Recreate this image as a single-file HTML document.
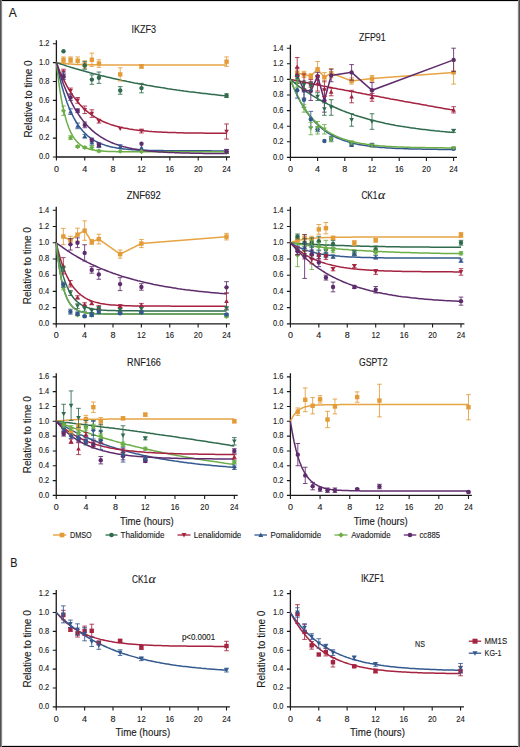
<!DOCTYPE html>
<html><head><meta charset="utf-8"><style>html,body{margin:0;padding:0;background:#fff;}svg{display:block;}</style></head>
<body>
<svg width="520" height="747" viewBox="0 0 520 747" font-family='"Liberation Sans", sans-serif'>
<style>text{stroke:#1a1a1a;stroke-width:0.12px;paint-order:stroke;}</style>
<rect width="520" height="747" fill="#fff"/>
<path d="M56.40,40.22V157.00H229.96" fill="none" stroke="#1a1a1a" stroke-width="1.3"/>
<path d="M52.90,157.00H56.40M52.90,138.12H56.40M52.90,119.24H56.40M52.90,100.36H56.40M52.90,81.48H56.40M52.90,62.60H56.40M52.90,43.72H56.40M56.40,157.00V160.60M84.76,157.00V160.60M113.12,157.00V160.60M141.48,157.00V160.60M169.84,157.00V160.60M198.20,157.00V160.60M226.56,157.00V160.60" stroke="#1a1a1a" stroke-width="1.1" fill="none"/>
<text x="49.40" y="159.30" font-size="8.6" text-anchor="end" textLength="10.4" lengthAdjust="spacingAndGlyphs" fill="#1a1a1a">0.0</text>
<text x="49.40" y="140.42" font-size="8.6" text-anchor="end" textLength="10.4" lengthAdjust="spacingAndGlyphs" fill="#1a1a1a">0.2</text>
<text x="49.40" y="121.54" font-size="8.6" text-anchor="end" textLength="10.4" lengthAdjust="spacingAndGlyphs" fill="#1a1a1a">0.4</text>
<text x="49.40" y="102.66" font-size="8.6" text-anchor="end" textLength="10.4" lengthAdjust="spacingAndGlyphs" fill="#1a1a1a">0.6</text>
<text x="49.40" y="83.78" font-size="8.6" text-anchor="end" textLength="10.4" lengthAdjust="spacingAndGlyphs" fill="#1a1a1a">0.8</text>
<text x="49.40" y="64.90" font-size="8.6" text-anchor="end" textLength="10.4" lengthAdjust="spacingAndGlyphs" fill="#1a1a1a">1.0</text>
<text x="49.40" y="46.02" font-size="8.6" text-anchor="end" textLength="10.4" lengthAdjust="spacingAndGlyphs" fill="#1a1a1a">1.2</text>
<text x="56.40" y="171.60" font-size="8.6" text-anchor="middle" textLength="5.0" lengthAdjust="spacingAndGlyphs" fill="#1a1a1a">0</text>
<text x="84.76" y="171.60" font-size="8.6" text-anchor="middle" textLength="5.0" lengthAdjust="spacingAndGlyphs" fill="#1a1a1a">4</text>
<text x="113.12" y="171.60" font-size="8.6" text-anchor="middle" textLength="5.0" lengthAdjust="spacingAndGlyphs" fill="#1a1a1a">8</text>
<text x="141.48" y="171.60" font-size="8.6" text-anchor="middle" textLength="8.6" lengthAdjust="spacingAndGlyphs" fill="#1a1a1a">12</text>
<text x="169.84" y="171.60" font-size="8.6" text-anchor="middle" textLength="8.6" lengthAdjust="spacingAndGlyphs" fill="#1a1a1a">16</text>
<text x="198.20" y="171.60" font-size="8.6" text-anchor="middle" textLength="8.6" lengthAdjust="spacingAndGlyphs" fill="#1a1a1a">20</text>
<text x="226.56" y="171.60" font-size="8.6" text-anchor="middle" textLength="8.6" lengthAdjust="spacingAndGlyphs" fill="#1a1a1a">24</text>
<text x="131.50" y="32.70" font-size="10.2" textLength="24.5" lengthAdjust="spacingAndGlyphs" fill="#1a1a1a">IKZF3</text>
<text transform="translate(31.70,99.00) rotate(-90)" font-size="10" text-anchor="middle" textLength="77.2" lengthAdjust="spacingAndGlyphs" fill="#1a1a1a">Relative to time 0</text>
<polyline points="56.4,62.6 58.2,62.9 59.9,63.1 61.7,63.3 63.5,63.5 65.3,63.7 67.0,63.8 68.8,64.0 70.6,64.1 72.4,64.2 74.1,64.3 75.9,64.4 77.7,64.4 79.4,64.5 81.2,64.5 83.0,64.6 84.8,64.6 86.5,64.7 88.3,64.7 90.1,64.7 91.8,64.8 93.6,64.8 95.4,64.8 97.2,64.8 98.9,64.8 100.7,64.9 102.5,64.9 104.3,64.9 106.0,64.9 107.8,64.9 109.6,64.9 111.3,64.9 113.1,64.9 114.9,64.9 116.7,64.9 118.4,64.9 120.2,64.9 122.0,64.9 123.8,64.9 125.5,64.9 127.3,64.9 129.1,64.9 130.8,64.9 132.6,64.9 134.4,65.0 136.2,65.0 137.9,65.0 139.7,65.0 141.5,65.0 143.3,65.0 145.0,65.0 146.8,65.0 148.6,65.0 150.3,65.0 152.1,65.0 153.9,65.0 155.7,65.0 157.4,65.0 159.2,65.0 161.0,65.0 162.8,65.0 164.5,65.0 166.3,65.0 168.1,65.0 169.8,65.0 171.6,65.0 173.4,65.0 175.2,65.0 176.9,65.0 178.7,65.0 180.5,65.0 182.2,65.0 184.0,65.0 185.8,65.0 187.6,65.0 189.3,65.0 191.1,65.0 192.9,65.0 194.7,65.0 196.4,65.0 198.2,65.0 200.0,65.0 201.7,65.0 203.5,65.0 205.3,65.0 207.1,65.0 208.8,65.0 210.6,65.0 212.4,65.0 214.2,65.0 215.9,65.0 217.7,65.0 219.5,65.0 221.2,65.0 223.0,65.0 224.8,65.0 226.6,65.0" fill="none" stroke="#E6A444" stroke-width="1.5"/>
<polyline points="56.4,62.6 58.2,63.2 59.9,63.8 61.7,64.4 63.5,64.9 65.3,65.5 67.0,66.1 68.8,66.6 70.6,67.2 72.4,67.7 74.1,68.3 75.9,68.8 77.7,69.3 79.4,69.8 81.2,70.3 83.0,70.8 84.8,71.3 86.5,71.8 88.3,72.3 90.1,72.8 91.8,73.2 93.6,73.7 95.4,74.1 97.2,74.6 98.9,75.0 100.7,75.5 102.5,75.9 104.3,76.3 106.0,76.8 107.8,77.2 109.6,77.6 111.3,78.0 113.1,78.4 114.9,78.8 116.7,79.2 118.4,79.6 120.2,80.0 122.0,80.4 123.8,80.7 125.5,81.1 127.3,81.5 129.1,81.8 130.8,82.2 132.6,82.5 134.4,82.9 136.2,83.2 137.9,83.5 139.7,83.9 141.5,84.2 143.3,84.5 145.0,84.8 146.8,85.2 148.6,85.5 150.3,85.8 152.1,86.1 153.9,86.4 155.7,86.7 157.4,87.0 159.2,87.3 161.0,87.6 162.8,87.8 164.5,88.1 166.3,88.4 168.1,88.7 169.8,88.9 171.6,89.2 173.4,89.5 175.2,89.7 176.9,90.0 178.7,90.2 180.5,90.5 182.2,90.7 184.0,91.0 185.8,91.2 187.6,91.4 189.3,91.7 191.1,91.9 192.9,92.1 194.7,92.3 196.4,92.6 198.2,92.8 200.0,93.0 201.7,93.2 203.5,93.4 205.3,93.6 207.1,93.8 208.8,94.0 210.6,94.2 212.4,94.4 214.2,94.6 215.9,94.8 217.7,95.0 219.5,95.2 221.2,95.4 223.0,95.6 224.8,95.7 226.6,95.9" fill="none" stroke="#2F6B4C" stroke-width="1.5"/>
<polyline points="56.4,62.6 58.2,67.2 59.9,71.5 61.7,75.6 63.5,79.4 65.3,82.9 67.0,86.2 68.8,89.3 70.6,92.1 72.4,94.8 74.1,97.4 75.9,99.7 77.7,101.9 79.4,104.0 81.2,105.9 83.0,107.7 84.8,109.4 86.5,110.9 88.3,112.4 90.1,113.8 91.8,115.0 93.6,116.2 95.4,117.4 97.2,118.4 98.9,119.4 100.7,120.3 102.5,121.2 104.3,122.0 106.0,122.7 107.8,123.4 109.6,124.1 111.3,124.7 113.1,125.2 114.9,125.8 116.7,126.3 118.4,126.7 120.2,127.2 122.0,127.6 123.8,128.0 125.5,128.3 127.3,128.6 129.1,129.0 130.8,129.2 132.6,129.5 134.4,129.8 136.2,130.0 137.9,130.2 139.7,130.4 141.5,130.6 143.3,130.8 145.0,131.0 146.8,131.1 148.6,131.3 150.3,131.4 152.1,131.6 153.9,131.7 155.7,131.8 157.4,131.9 159.2,132.0 161.0,132.1 162.8,132.2 164.5,132.2 166.3,132.3 168.1,132.4 169.8,132.5 171.6,132.5 173.4,132.6 175.2,132.6 176.9,132.7 178.7,132.7 180.5,132.8 182.2,132.8 184.0,132.9 185.8,132.9 187.6,132.9 189.3,133.0 191.1,133.0 192.9,133.0 194.7,133.0 196.4,133.1 198.2,133.1 200.0,133.1 201.7,133.1 203.5,133.1 205.3,133.2 207.1,133.2 208.8,133.2 210.6,133.2 212.4,133.2 214.2,133.2 215.9,133.2 217.7,133.2 219.5,133.3 221.2,133.3 223.0,133.3 224.8,133.3 226.6,133.3" fill="none" stroke="#A52240" stroke-width="1.5"/>
<polyline points="56.4,62.6 58.2,71.0 59.9,78.6 61.7,85.5 63.5,91.7 65.3,97.3 67.0,102.4 68.8,107.0 70.6,111.2 72.4,115.0 74.1,118.4 75.9,121.5 77.7,124.3 79.4,126.8 81.2,129.1 83.0,131.2 84.8,133.0 86.5,134.7 88.3,136.3 90.1,137.7 91.8,138.9 93.6,140.1 95.4,141.1 97.2,142.0 98.9,142.9 100.7,143.6 102.5,144.3 104.3,144.9 106.0,145.5 107.8,146.0 109.6,146.5 111.3,146.9 113.1,147.3 114.9,147.6 116.7,147.9 118.4,148.2 120.2,148.5 122.0,148.7 123.8,148.9 125.5,149.1 127.3,149.2 129.1,149.4 130.8,149.5 132.6,149.7 134.4,149.8 136.2,149.9 137.9,150.0 139.7,150.1 141.5,150.1 143.3,150.2 145.0,150.3 146.8,150.3 148.6,150.4 150.3,150.4 152.1,150.5 153.9,150.5 155.7,150.5 157.4,150.6 159.2,150.6 161.0,150.6 162.8,150.6 164.5,150.7 166.3,150.7 168.1,150.7 169.8,150.7 171.6,150.7 173.4,150.7 175.2,150.8 176.9,150.8 178.7,150.8 180.5,150.8 182.2,150.8 184.0,150.8 185.8,150.8 187.6,150.8 189.3,150.8 191.1,150.8 192.9,150.8 194.7,150.8 196.4,150.8 198.2,150.8 200.0,150.8 201.7,150.8 203.5,150.8 205.3,150.8 207.1,150.8 208.8,150.8 210.6,150.8 212.4,150.9 214.2,150.9 215.9,150.9 217.7,150.9 219.5,150.9 221.2,150.9 223.0,150.9 224.8,150.9 226.6,150.9" fill="none" stroke="#34598F" stroke-width="1.5"/>
<polyline points="56.4,62.6 58.2,77.9 59.9,90.5 61.7,101.0 63.5,109.7 65.3,116.9 67.0,122.8 68.8,127.8 70.6,131.9 72.4,135.3 74.1,138.1 75.9,140.5 77.7,142.4 79.4,144.0 81.2,145.3 83.0,146.5 84.8,147.4 86.5,148.1 88.3,148.8 90.1,149.3 91.8,149.7 93.6,150.1 95.4,150.4 97.2,150.6 98.9,150.8 100.7,151.0 102.5,151.1 104.3,151.2 106.0,151.3 107.8,151.4 109.6,151.5 111.3,151.5 113.1,151.6 114.9,151.6 116.7,151.7 118.4,151.7 120.2,151.7 122.0,151.7 123.8,151.7 125.5,151.7 127.3,151.8 129.1,151.8 130.8,151.8 132.6,151.8 134.4,151.8 136.2,151.8 137.9,151.8 139.7,151.8 141.5,151.8 143.3,151.8 145.0,151.8 146.8,151.8 148.6,151.8 150.3,151.8 152.1,151.8 153.9,151.8 155.7,151.8 157.4,151.8 159.2,151.8 161.0,151.8 162.8,151.8 164.5,151.8 166.3,151.8 168.1,151.8 169.8,151.8 171.6,151.8 173.4,151.8 175.2,151.8 176.9,151.8 178.7,151.8 180.5,151.8 182.2,151.8 184.0,151.8 185.8,151.8 187.6,151.8 189.3,151.8 191.1,151.8 192.9,151.8 194.7,151.8 196.4,151.8 198.2,151.8 200.0,151.8 201.7,151.8 203.5,151.8 205.3,151.8 207.1,151.8 208.8,151.8 210.6,151.8 212.4,151.8 214.2,151.8 215.9,151.8 217.7,151.8 219.5,151.8 221.2,151.8 223.0,151.8 224.8,151.8 226.6,151.8" fill="none" stroke="#6BAE48" stroke-width="1.5"/>
<polyline points="56.4,62.6 58.2,68.5 59.9,74.1 61.7,79.3 63.5,84.2 65.3,88.7 67.0,92.9 68.8,96.9 70.6,100.6 72.4,104.1 74.1,107.3 75.9,110.3 77.7,113.2 79.4,115.8 81.2,118.3 83.0,120.6 84.8,122.8 86.5,124.8 88.3,126.7 90.1,128.4 91.8,130.1 93.6,131.6 95.4,133.1 97.2,134.4 98.9,135.7 100.7,136.8 102.5,137.9 104.3,139.0 106.0,139.9 107.8,140.8 109.6,141.7 111.3,142.5 113.1,143.2 114.9,143.9 116.7,144.5 118.4,145.1 120.2,145.7 122.0,146.2 123.8,146.7 125.5,147.1 127.3,147.6 129.1,148.0 130.8,148.3 132.6,148.7 134.4,149.0 136.2,149.3 137.9,149.6 139.7,149.9 141.5,150.1 143.3,150.4 145.0,150.6 146.8,150.8 148.6,151.0 150.3,151.2 152.1,151.3 153.9,151.5 155.7,151.6 157.4,151.8 159.2,151.9 161.0,152.0 162.8,152.1 164.5,152.2 166.3,152.3 168.1,152.4 169.8,152.5 171.6,152.6 173.4,152.6 175.2,152.7 176.9,152.8 178.7,152.8 180.5,152.9 182.2,152.9 184.0,153.0 185.8,153.0 187.6,153.1 189.3,153.1 191.1,153.2 192.9,153.2 194.7,153.2 196.4,153.3 198.2,153.3 200.0,153.3 201.7,153.3 203.5,153.4 205.3,153.4 207.1,153.4 208.8,153.4 210.6,153.4 212.4,153.5 214.2,153.5 215.9,153.5 217.7,153.5 219.5,153.5 221.2,153.5 223.0,153.5 224.8,153.5 226.6,153.6" fill="none" stroke="#5E2C6C" stroke-width="1.5"/>
<path d="M63.49,56.94V62.60M61.19,56.94H65.79M61.19,62.60H65.79" stroke="#E39B38" stroke-width="1" fill="none" opacity="0.85"/>
<rect x="61.29" y="57.57" width="4.40" height="4.40" fill="#E39B38"/>
<path d="M70.58,56.94V62.60M68.28,56.94H72.88M68.28,62.60H72.88" stroke="#E39B38" stroke-width="1" fill="none" opacity="0.85"/>
<rect x="68.38" y="57.57" width="4.40" height="4.40" fill="#E39B38"/>
<path d="M77.67,56.94V64.49M75.37,56.94H79.97M75.37,64.49H79.97" stroke="#E39B38" stroke-width="1" fill="none" opacity="0.85"/>
<rect x="75.47" y="58.51" width="4.40" height="4.40" fill="#E39B38"/>
<path d="M84.76,60.71V68.26M82.46,60.71H87.06M82.46,68.26H87.06" stroke="#E39B38" stroke-width="1" fill="none" opacity="0.85"/>
<rect x="82.56" y="62.29" width="4.40" height="4.40" fill="#E39B38"/>
<path d="M91.85,53.16V66.38M89.55,53.16H94.15M89.55,66.38H94.15" stroke="#E39B38" stroke-width="1" fill="none" opacity="0.85"/>
<rect x="89.65" y="57.57" width="4.40" height="4.40" fill="#E39B38"/>
<path d="M98.94,59.77V67.32M96.64,59.77H101.24M96.64,67.32H101.24" stroke="#E39B38" stroke-width="1" fill="none" opacity="0.85"/>
<rect x="96.74" y="61.34" width="4.40" height="4.40" fill="#E39B38"/>
<path d="M120.21,67.79V81.01M117.91,67.79H122.51M117.91,81.01H122.51" stroke="#E39B38" stroke-width="1" fill="none" opacity="0.85"/>
<rect x="118.01" y="72.20" width="4.40" height="4.40" fill="#E39B38"/>
<path d="M141.48,64.49V68.26M139.18,64.49H143.78M139.18,68.26H143.78" stroke="#E39B38" stroke-width="1" fill="none" opacity="0.85"/>
<rect x="139.28" y="64.18" width="4.40" height="4.40" fill="#E39B38"/>
<path d="M226.56,56.94V66.38M224.26,56.94H228.86M224.26,66.38H228.86" stroke="#E39B38" stroke-width="1" fill="none" opacity="0.85"/>
<rect x="224.36" y="59.46" width="4.40" height="4.40" fill="#E39B38"/>
<circle cx="63.49" cy="51.27" r="2.20" fill="#2F6B4C"/>
<path d="M84.76,61.66V69.21M82.46,61.66H87.06M82.46,69.21H87.06" stroke="#2F6B4C" stroke-width="1" fill="none" opacity="0.85"/>
<circle cx="84.76" cy="65.43" r="2.20" fill="#2F6B4C"/>
<path d="M91.85,74.87V84.31M89.55,74.87H94.15M89.55,84.31H94.15" stroke="#2F6B4C" stroke-width="1" fill="none" opacity="0.85"/>
<circle cx="91.85" cy="79.59" r="2.20" fill="#2F6B4C"/>
<path d="M98.94,72.04V83.37M96.64,72.04H101.24M96.64,83.37H101.24" stroke="#2F6B4C" stroke-width="1" fill="none" opacity="0.85"/>
<circle cx="98.94" cy="77.70" r="2.20" fill="#2F6B4C"/>
<path d="M120.21,86.67V94.22M117.91,86.67H122.51M117.91,94.22H122.51" stroke="#2F6B4C" stroke-width="1" fill="none" opacity="0.85"/>
<circle cx="120.21" cy="90.45" r="2.20" fill="#2F6B4C"/>
<path d="M141.48,83.37V92.81M139.18,83.37H143.78M139.18,92.81H143.78" stroke="#2F6B4C" stroke-width="1" fill="none" opacity="0.85"/>
<circle cx="141.48" cy="88.09" r="2.20" fill="#2F6B4C"/>
<path d="M226.56,93.75V97.53M224.26,93.75H228.86M224.26,97.53H228.86" stroke="#2F6B4C" stroke-width="1" fill="none" opacity="0.85"/>
<circle cx="226.56" cy="95.64" r="2.20" fill="#2F6B4C"/>
<path d="M63.49,69.21V74.87M61.19,69.21H65.79M61.19,74.87H65.79" stroke="#A52240" stroke-width="1" fill="none" opacity="0.85"/>
<path d="M63.49,74.34L65.80,70.16L61.18,70.16Z" fill="#A52240"/>
<path d="M70.58,88.09V93.75M68.28,88.09H72.88M68.28,93.75H72.88" stroke="#A52240" stroke-width="1" fill="none" opacity="0.85"/>
<path d="M70.58,93.22L72.89,89.04L68.27,89.04Z" fill="#A52240"/>
<path d="M77.67,97.53V103.19M75.37,97.53H79.97M75.37,103.19H79.97" stroke="#A52240" stroke-width="1" fill="none" opacity="0.85"/>
<path d="M77.67,102.66L79.98,98.48L75.36,98.48Z" fill="#A52240"/>
<path d="M84.76,106.02V113.58M82.46,106.02H87.06M82.46,113.58H87.06" stroke="#A52240" stroke-width="1" fill="none" opacity="0.85"/>
<path d="M84.76,112.10L87.07,107.92L82.45,107.92Z" fill="#A52240"/>
<path d="M91.85,109.80V117.35M89.55,109.80H94.15M89.55,117.35H94.15" stroke="#A52240" stroke-width="1" fill="none" opacity="0.85"/>
<path d="M91.85,115.88L94.16,111.69L89.54,111.69Z" fill="#A52240"/>
<path d="M98.94,119.24V123.02M96.64,119.24H101.24M96.64,123.02H101.24" stroke="#A52240" stroke-width="1" fill="none" opacity="0.85"/>
<path d="M98.94,123.43L101.25,119.25L96.63,119.25Z" fill="#A52240"/>
<path d="M120.21,130.98L122.52,126.80L117.90,126.80Z" fill="#A52240"/>
<path d="M141.48,129.15V132.93M139.18,129.15H143.78M139.18,132.93H143.78" stroke="#A52240" stroke-width="1" fill="none" opacity="0.85"/>
<path d="M141.48,133.34L143.79,129.16L139.17,129.16Z" fill="#A52240"/>
<path d="M226.56,123.96V139.06M224.26,123.96H228.86M224.26,139.06H228.86" stroke="#A52240" stroke-width="1" fill="none" opacity="0.85"/>
<path d="M226.56,133.81L228.87,129.63L224.25,129.63Z" fill="#A52240"/>
<path d="M63.49,72.04V77.70M61.19,72.04H65.79M61.19,77.70H65.79" stroke="#34598F" stroke-width="1" fill="none" opacity="0.85"/>
<path d="M63.49,72.57L65.80,76.75L61.18,76.75Z" fill="#34598F"/>
<path d="M70.58,108.86V114.52M68.28,108.86H72.88M68.28,114.52H72.88" stroke="#34598F" stroke-width="1" fill="none" opacity="0.85"/>
<path d="M70.58,109.39L72.89,113.57L68.27,113.57Z" fill="#34598F"/>
<path d="M77.67,123.02V128.68M75.37,123.02H79.97M75.37,128.68H79.97" stroke="#34598F" stroke-width="1" fill="none" opacity="0.85"/>
<path d="M77.67,123.55L79.98,127.73L75.36,127.73Z" fill="#34598F"/>
<path d="M84.76,134.34V138.12M82.46,134.34H87.06M82.46,138.12H87.06" stroke="#34598F" stroke-width="1" fill="none" opacity="0.85"/>
<path d="M84.76,133.93L87.07,138.11L82.45,138.11Z" fill="#34598F"/>
<path d="M91.85,139.54V145.20M89.55,139.54H94.15M89.55,145.20H94.15" stroke="#34598F" stroke-width="1" fill="none" opacity="0.85"/>
<path d="M91.85,140.07L94.16,144.25L89.54,144.25Z" fill="#34598F"/>
<path d="M98.94,143.78V147.56M96.64,143.78H101.24M96.64,147.56H101.24" stroke="#34598F" stroke-width="1" fill="none" opacity="0.85"/>
<path d="M98.94,143.37L101.25,147.55L96.63,147.55Z" fill="#34598F"/>
<path d="M120.21,144.73V148.50M117.91,144.73H122.51M117.91,148.50H122.51" stroke="#34598F" stroke-width="1" fill="none" opacity="0.85"/>
<path d="M120.21,144.32L122.52,148.50L117.90,148.50Z" fill="#34598F"/>
<path d="M141.48,145.26L143.79,149.44L139.17,149.44Z" fill="#34598F"/>
<path d="M226.56,149.45V153.22M224.26,149.45H228.86M224.26,153.22H228.86" stroke="#34598F" stroke-width="1" fill="none" opacity="0.85"/>
<path d="M226.56,149.04L228.87,153.22L224.25,153.22Z" fill="#34598F"/>
<path d="M63.49,106.02V115.46M61.19,106.02H65.79M61.19,115.46H65.79" stroke="#6BAE48" stroke-width="1" fill="none" opacity="0.85"/>
<path d="M63.49,108.21L66.02,110.74L63.49,113.27L60.96,110.74Z" fill="#6BAE48"/>
<path d="M70.58,135.76V139.54M68.28,135.76H72.88M68.28,139.54H72.88" stroke="#6BAE48" stroke-width="1" fill="none" opacity="0.85"/>
<path d="M70.58,135.12L73.11,137.65L70.58,140.18L68.05,137.65Z" fill="#6BAE48"/>
<path d="M77.67,145.67V147.56M75.37,145.67H79.97M75.37,147.56H79.97" stroke="#6BAE48" stroke-width="1" fill="none" opacity="0.85"/>
<path d="M77.67,144.09L80.20,146.62L77.67,149.15L75.14,146.62Z" fill="#6BAE48"/>
<path d="M84.76,146.62V148.50M82.46,146.62H87.06M82.46,148.50H87.06" stroke="#6BAE48" stroke-width="1" fill="none" opacity="0.85"/>
<path d="M84.76,145.03L87.29,147.56L84.76,150.09L82.23,147.56Z" fill="#6BAE48"/>
<path d="M91.85,145.67V149.45M89.55,145.67H94.15M89.55,149.45H94.15" stroke="#6BAE48" stroke-width="1" fill="none" opacity="0.85"/>
<path d="M91.85,145.03L94.38,147.56L91.85,150.09L89.32,147.56Z" fill="#6BAE48"/>
<path d="M98.94,150.11V152.00M96.64,150.11H101.24M96.64,152.00H101.24" stroke="#6BAE48" stroke-width="1" fill="none" opacity="0.85"/>
<path d="M98.94,148.52L101.47,151.05L98.94,153.58L96.41,151.05Z" fill="#6BAE48"/>
<path d="M120.21,148.81L122.74,151.34L120.21,153.87L117.68,151.34Z" fill="#6BAE48"/>
<path d="M141.48,149.09L144.01,151.62L141.48,154.15L138.95,151.62Z" fill="#6BAE48"/>
<path d="M226.56,151.34V153.22M224.26,151.34H228.86M224.26,153.22H228.86" stroke="#6BAE48" stroke-width="1" fill="none" opacity="0.85"/>
<path d="M226.56,149.75L229.09,152.28L226.56,154.81L224.03,152.28Z" fill="#6BAE48"/>
<path d="M63.49,73.93V79.59M61.19,73.93H65.79M61.19,79.59H65.79" stroke="#5E2C6C" stroke-width="1" fill="none" opacity="0.85"/>
<circle cx="63.49" cy="76.76" r="2.20" fill="#5E2C6C"/>
<path d="M70.58,94.70V100.36M68.28,94.70H72.88M68.28,100.36H72.88" stroke="#5E2C6C" stroke-width="1" fill="none" opacity="0.85"/>
<circle cx="70.58" cy="97.53" r="2.20" fill="#5E2C6C"/>
<path d="M77.67,108.86V112.63M75.37,108.86H79.97M75.37,112.63H79.97" stroke="#5E2C6C" stroke-width="1" fill="none" opacity="0.85"/>
<circle cx="77.67" cy="110.74" r="2.20" fill="#5E2C6C"/>
<path d="M84.76,122.07V127.74M82.46,122.07H87.06M82.46,127.74H87.06" stroke="#5E2C6C" stroke-width="1" fill="none" opacity="0.85"/>
<circle cx="84.76" cy="124.90" r="2.20" fill="#5E2C6C"/>
<path d="M91.85,138.12V141.90M89.55,138.12H94.15M89.55,141.90H94.15" stroke="#5E2C6C" stroke-width="1" fill="none" opacity="0.85"/>
<circle cx="91.85" cy="140.01" r="2.20" fill="#5E2C6C"/>
<path d="M98.94,142.84V146.62M96.64,142.84H101.24M96.64,146.62H101.24" stroke="#5E2C6C" stroke-width="1" fill="none" opacity="0.85"/>
<circle cx="98.94" cy="144.73" r="2.20" fill="#5E2C6C"/>
<circle cx="141.48" cy="143.78" r="2.20" fill="#5E2C6C"/>
<path d="M226.56,149.45V153.22M224.26,149.45H228.86M224.26,153.22H228.86" stroke="#5E2C6C" stroke-width="1" fill="none" opacity="0.85"/>
<circle cx="226.56" cy="151.34" r="2.20" fill="#5E2C6C"/>
<path d="M290.40,44.70V157.40H457.00" fill="none" stroke="#1a1a1a" stroke-width="1.3"/>
<path d="M286.90,157.40H290.40M286.90,141.80H290.40M286.90,126.20H290.40M286.90,110.60H290.40M286.90,95.00H290.40M286.90,79.40H290.40M286.90,63.80H290.40M286.90,48.20H290.40M290.40,157.40V161.00M317.60,157.40V161.00M344.80,157.40V161.00M372.00,157.40V161.00M399.20,157.40V161.00M426.40,157.40V161.00M453.60,157.40V161.00" stroke="#1a1a1a" stroke-width="1.1" fill="none"/>
<text x="283.40" y="159.70" font-size="8.6" text-anchor="end" textLength="10.4" lengthAdjust="spacingAndGlyphs" fill="#1a1a1a">0.0</text>
<text x="283.40" y="144.10" font-size="8.6" text-anchor="end" textLength="10.4" lengthAdjust="spacingAndGlyphs" fill="#1a1a1a">0.2</text>
<text x="283.40" y="128.50" font-size="8.6" text-anchor="end" textLength="10.4" lengthAdjust="spacingAndGlyphs" fill="#1a1a1a">0.4</text>
<text x="283.40" y="112.90" font-size="8.6" text-anchor="end" textLength="10.4" lengthAdjust="spacingAndGlyphs" fill="#1a1a1a">0.6</text>
<text x="283.40" y="97.30" font-size="8.6" text-anchor="end" textLength="10.4" lengthAdjust="spacingAndGlyphs" fill="#1a1a1a">0.8</text>
<text x="283.40" y="81.70" font-size="8.6" text-anchor="end" textLength="10.4" lengthAdjust="spacingAndGlyphs" fill="#1a1a1a">1.0</text>
<text x="283.40" y="66.10" font-size="8.6" text-anchor="end" textLength="10.4" lengthAdjust="spacingAndGlyphs" fill="#1a1a1a">1.2</text>
<text x="283.40" y="50.50" font-size="8.6" text-anchor="end" textLength="10.4" lengthAdjust="spacingAndGlyphs" fill="#1a1a1a">1.4</text>
<text x="290.40" y="172.00" font-size="8.6" text-anchor="middle" textLength="5.0" lengthAdjust="spacingAndGlyphs" fill="#1a1a1a">0</text>
<text x="317.60" y="172.00" font-size="8.6" text-anchor="middle" textLength="5.0" lengthAdjust="spacingAndGlyphs" fill="#1a1a1a">4</text>
<text x="344.80" y="172.00" font-size="8.6" text-anchor="middle" textLength="5.0" lengthAdjust="spacingAndGlyphs" fill="#1a1a1a">8</text>
<text x="372.00" y="172.00" font-size="8.6" text-anchor="middle" textLength="8.6" lengthAdjust="spacingAndGlyphs" fill="#1a1a1a">12</text>
<text x="399.20" y="172.00" font-size="8.6" text-anchor="middle" textLength="8.6" lengthAdjust="spacingAndGlyphs" fill="#1a1a1a">16</text>
<text x="426.40" y="172.00" font-size="8.6" text-anchor="middle" textLength="8.6" lengthAdjust="spacingAndGlyphs" fill="#1a1a1a">20</text>
<text x="453.60" y="172.00" font-size="8.6" text-anchor="middle" textLength="8.6" lengthAdjust="spacingAndGlyphs" fill="#1a1a1a">24</text>
<text x="359.10" y="41.20" font-size="10.2" textLength="26.5" lengthAdjust="spacingAndGlyphs" fill="#1a1a1a">ZFP91</text>
<polyline points="290.4,79.4 292.1,79.7 293.8,80.1 295.5,80.4 297.2,80.8 298.9,81.1 300.6,81.5 302.3,81.8 304.0,82.1 305.7,82.5 307.4,82.8 309.1,83.2 310.8,83.5 312.5,83.8 314.2,84.2 315.9,84.5 317.6,84.9 319.3,85.2 321.0,85.5 322.7,85.9 324.4,86.2 326.1,86.5 327.8,86.9 329.5,87.2 331.2,87.5 332.9,87.9 334.6,88.2 336.3,88.5 338.0,88.9 339.7,89.2 341.4,89.5 343.1,89.8 344.8,90.2 346.5,90.5 348.2,90.8 349.9,91.2 351.6,91.5 353.3,91.8 355.0,92.1 356.7,92.5 358.4,92.8 360.1,93.1 361.8,93.4 363.5,93.8 365.2,94.1 366.9,94.4 368.6,94.7 370.3,95.0 372.0,95.4 373.7,95.7 375.4,96.0 377.1,96.3 378.8,96.6 380.5,97.0 382.2,97.3 383.9,97.6 385.6,97.9 387.3,98.2 389.0,98.5 390.7,98.9 392.4,99.2 394.1,99.5 395.8,99.8 397.5,100.1 399.2,100.4 400.9,100.7 402.6,101.0 404.3,101.4 406.0,101.7 407.7,102.0 409.4,102.3 411.1,102.6 412.8,102.9 414.5,103.2 416.2,103.5 417.9,103.8 419.6,104.1 421.3,104.4 423.0,104.7 424.7,105.0 426.4,105.3 428.1,105.7 429.8,106.0 431.5,106.3 433.2,106.6 434.9,106.9 436.6,107.2 438.3,107.5 440.0,107.8 441.7,108.1 443.4,108.4 445.1,108.7 446.8,109.0 448.5,109.3 450.2,109.6 451.9,109.8 453.6,110.1" fill="none" stroke="#A52240" stroke-width="1.5"/>
<polyline points="290.4,79.4 292.1,80.8 293.8,82.2 295.5,83.6 297.2,85.0 298.9,86.3 300.6,87.5 302.3,88.8 304.0,90.0 305.7,91.2 307.4,92.3 309.1,93.4 310.8,94.5 312.5,95.6 314.2,96.6 315.9,97.6 317.6,98.6 319.3,99.6 321.0,100.5 322.7,101.5 324.4,102.4 326.1,103.2 327.8,104.1 329.5,104.9 331.2,105.7 332.9,106.5 334.6,107.3 336.3,108.0 338.0,108.8 339.7,109.5 341.4,110.2 343.1,110.9 344.8,111.5 346.5,112.2 348.2,112.8 349.9,113.4 351.6,114.0 353.3,114.6 355.0,115.2 356.7,115.7 358.4,116.3 360.1,116.8 361.8,117.3 363.5,117.8 365.2,118.3 366.9,118.8 368.6,119.3 370.3,119.7 372.0,120.2 373.7,120.6 375.4,121.0 377.1,121.4 378.8,121.8 380.5,122.2 382.2,122.6 383.9,123.0 385.6,123.4 387.3,123.7 389.0,124.1 390.7,124.4 392.4,124.7 394.1,125.0 395.8,125.4 397.5,125.7 399.2,126.0 400.9,126.3 402.6,126.5 404.3,126.8 406.0,127.1 407.7,127.3 409.4,127.6 411.1,127.9 412.8,128.1 414.5,128.3 416.2,128.6 417.9,128.8 419.6,129.0 421.3,129.2 423.0,129.4 424.7,129.6 426.4,129.8 428.1,130.0 429.8,130.2 431.5,130.4 433.2,130.6 434.9,130.8 436.6,130.9 438.3,131.1 440.0,131.3 441.7,131.4 443.4,131.6 445.1,131.7 446.8,131.9 448.5,132.0 450.2,132.2 451.9,132.3 453.6,132.5" fill="none" stroke="#2F6B4C" stroke-width="1.5"/>
<polyline points="290.4,79.4 292.1,83.8 293.8,88.0 295.5,91.8 297.2,95.5 298.9,98.9 300.6,102.1 302.3,105.1 304.0,107.9 305.7,110.5 307.4,113.0 309.1,115.3 310.8,117.4 312.5,119.4 314.2,121.3 315.9,123.1 317.6,124.8 319.3,126.3 321.0,127.8 322.7,129.2 324.4,130.5 326.1,131.7 327.8,132.8 329.5,133.9 331.2,134.8 332.9,135.8 334.6,136.6 336.3,137.5 338.0,138.2 339.7,138.9 341.4,139.6 343.1,140.2 344.8,140.8 346.5,141.4 348.2,141.9 349.9,142.4 351.6,142.8 353.3,143.3 355.0,143.7 356.7,144.0 358.4,144.4 360.1,144.7 361.8,145.0 363.5,145.3 365.2,145.6 366.9,145.8 368.6,146.1 370.3,146.3 372.0,146.5 373.7,146.7 375.4,146.9 377.1,147.0 378.8,147.2 380.5,147.4 382.2,147.5 383.9,147.6 385.6,147.8 387.3,147.9 389.0,148.0 390.7,148.1 392.4,148.2 394.1,148.3 395.8,148.4 397.5,148.4 399.2,148.5 400.9,148.6 402.6,148.6 404.3,148.7 406.0,148.8 407.7,148.8 409.4,148.9 411.1,148.9 412.8,148.9 414.5,149.0 416.2,149.0 417.9,149.1 419.6,149.1 421.3,149.1 423.0,149.2 424.7,149.2 426.4,149.2 428.1,149.2 429.8,149.3 431.5,149.3 433.2,149.3 434.9,149.3 436.6,149.3 438.3,149.4 440.0,149.4 441.7,149.4 443.4,149.4 445.1,149.4 446.8,149.4 448.5,149.4 450.2,149.4 451.9,149.5 453.6,149.5" fill="none" stroke="#34598F" stroke-width="1.5"/>
<polyline points="290.4,79.4 292.1,83.7 293.8,87.8 295.5,91.6 297.2,95.1 298.9,98.4 300.6,101.6 302.3,104.5 304.0,107.2 305.7,109.8 307.4,112.2 309.1,114.5 310.8,116.6 312.5,118.6 314.2,120.4 315.9,122.1 317.6,123.8 319.3,125.3 321.0,126.7 322.7,128.1 324.4,129.3 326.1,130.5 327.8,131.6 329.5,132.6 331.2,133.6 332.9,134.5 334.6,135.4 336.3,136.2 338.0,136.9 339.7,137.6 341.4,138.3 343.1,138.9 344.8,139.5 346.5,140.0 348.2,140.5 349.9,141.0 351.6,141.4 353.3,141.8 355.0,142.2 356.7,142.6 358.4,142.9 360.1,143.3 361.8,143.6 363.5,143.8 365.2,144.1 366.9,144.4 368.6,144.6 370.3,144.8 372.0,145.0 373.7,145.2 375.4,145.4 377.1,145.5 378.8,145.7 380.5,145.9 382.2,146.0 383.9,146.1 385.6,146.2 387.3,146.4 389.0,146.5 390.7,146.6 392.4,146.7 394.1,146.7 395.8,146.8 397.5,146.9 399.2,147.0 400.9,147.0 402.6,147.1 404.3,147.2 406.0,147.2 407.7,147.3 409.4,147.3 411.1,147.4 412.8,147.4 414.5,147.4 416.2,147.5 417.9,147.5 419.6,147.5 421.3,147.6 423.0,147.6 424.7,147.6 426.4,147.7 428.1,147.7 429.8,147.7 431.5,147.7 433.2,147.7 434.9,147.8 436.6,147.8 438.3,147.8 440.0,147.8 441.7,147.8 443.4,147.8 445.1,147.9 446.8,147.9 448.5,147.9 450.2,147.9 451.9,147.9 453.6,147.9" fill="none" stroke="#6BAE48" stroke-width="1.5"/>
<polyline points="297.20,73.16 304.00,74.41 310.80,76.12 317.60,69.26 324.40,77.29 331.20,73.16 351.60,80.96 372.00,78.62 453.60,72.38" fill="none" stroke="#E6A444" stroke-width="1.5"/>
<polyline points="297.20,75.50 304.00,90.32 310.80,91.10 317.60,76.28 324.40,100.46 331.20,75.50 351.60,72.38 372.00,90.32 453.60,59.90" fill="none" stroke="#5E2C6C" stroke-width="1.5"/>
<path d="M297.20,70.04V76.28M294.90,70.04H299.50M294.90,76.28H299.50" stroke="#E39B38" stroke-width="1" fill="none" opacity="0.85"/>
<rect x="295.00" y="70.96" width="4.40" height="4.40" fill="#E39B38"/>
<path d="M304.00,71.29V77.53M301.70,71.29H306.30M301.70,77.53H306.30" stroke="#E39B38" stroke-width="1" fill="none" opacity="0.85"/>
<rect x="301.80" y="72.21" width="4.40" height="4.40" fill="#E39B38"/>
<path d="M310.80,73.78V78.46M308.50,73.78H313.10M308.50,78.46H313.10" stroke="#E39B38" stroke-width="1" fill="none" opacity="0.85"/>
<rect x="308.60" y="73.92" width="4.40" height="4.40" fill="#E39B38"/>
<path d="M317.60,61.46V77.06M315.30,61.46H319.90M315.30,77.06H319.90" stroke="#E39B38" stroke-width="1" fill="none" opacity="0.85"/>
<rect x="315.40" y="67.06" width="4.40" height="4.40" fill="#E39B38"/>
<path d="M324.40,72.61V81.97M322.10,72.61H326.70M322.10,81.97H326.70" stroke="#E39B38" stroke-width="1" fill="none" opacity="0.85"/>
<rect x="322.20" y="75.09" width="4.40" height="4.40" fill="#E39B38"/>
<path d="M331.20,68.48V77.84M328.90,68.48H333.50M328.90,77.84H333.50" stroke="#E39B38" stroke-width="1" fill="none" opacity="0.85"/>
<rect x="329.00" y="70.96" width="4.40" height="4.40" fill="#E39B38"/>
<path d="M351.60,77.84V84.08M349.30,77.84H353.90M349.30,84.08H353.90" stroke="#E39B38" stroke-width="1" fill="none" opacity="0.85"/>
<rect x="349.40" y="78.76" width="4.40" height="4.40" fill="#E39B38"/>
<path d="M372.00,75.50V81.74M369.70,75.50H374.30M369.70,81.74H374.30" stroke="#E39B38" stroke-width="1" fill="none" opacity="0.85"/>
<rect x="369.80" y="76.42" width="4.40" height="4.40" fill="#E39B38"/>
<path d="M453.60,60.68V84.08M451.30,60.68H455.90M451.30,84.08H455.90" stroke="#E39B38" stroke-width="1" fill="none" opacity="0.85"/>
<rect x="451.40" y="70.18" width="4.40" height="4.40" fill="#E39B38"/>
<path d="M297.20,67.70V83.30M294.90,67.70H299.50M294.90,83.30H299.50" stroke="#5E2C6C" stroke-width="1" fill="none" opacity="0.85"/>
<circle cx="297.20" cy="75.50" r="2.20" fill="#5E2C6C"/>
<path d="M304.00,82.52V98.12M301.70,82.52H306.30M301.70,98.12H306.30" stroke="#5E2C6C" stroke-width="1" fill="none" opacity="0.85"/>
<circle cx="304.00" cy="90.32" r="2.20" fill="#5E2C6C"/>
<path d="M310.80,81.74V100.46M308.50,81.74H313.10M308.50,100.46H313.10" stroke="#5E2C6C" stroke-width="1" fill="none" opacity="0.85"/>
<circle cx="310.80" cy="91.10" r="2.20" fill="#5E2C6C"/>
<path d="M317.60,72.38V80.18M315.30,72.38H319.90M315.30,80.18H319.90" stroke="#5E2C6C" stroke-width="1" fill="none" opacity="0.85"/>
<circle cx="317.60" cy="76.28" r="2.20" fill="#5E2C6C"/>
<path d="M324.40,88.76V112.16M322.10,88.76H326.70M322.10,112.16H326.70" stroke="#5E2C6C" stroke-width="1" fill="none" opacity="0.85"/>
<circle cx="324.40" cy="100.46" r="2.20" fill="#5E2C6C"/>
<path d="M331.20,69.26V81.74M328.90,69.26H333.50M328.90,81.74H333.50" stroke="#5E2C6C" stroke-width="1" fill="none" opacity="0.85"/>
<circle cx="331.20" cy="75.50" r="2.20" fill="#5E2C6C"/>
<path d="M351.60,64.58V80.18M349.30,64.58H353.90M349.30,80.18H353.90" stroke="#5E2C6C" stroke-width="1" fill="none" opacity="0.85"/>
<circle cx="351.60" cy="72.38" r="2.20" fill="#5E2C6C"/>
<path d="M372.00,82.52V98.12M369.70,82.52H374.30M369.70,98.12H374.30" stroke="#5E2C6C" stroke-width="1" fill="none" opacity="0.85"/>
<circle cx="372.00" cy="90.32" r="2.20" fill="#5E2C6C"/>
<path d="M453.60,48.20V71.60M451.30,48.20H455.90M451.30,71.60H455.90" stroke="#5E2C6C" stroke-width="1" fill="none" opacity="0.85"/>
<circle cx="453.60" cy="59.90" r="2.20" fill="#5E2C6C"/>
<path d="M297.20,57.56V76.28M294.90,57.56H299.50M294.90,76.28H299.50" stroke="#A52240" stroke-width="1" fill="none" opacity="0.85"/>
<path d="M297.20,64.62L299.51,68.80L294.89,68.80Z" fill="#A52240"/>
<path d="M304.00,73.94V89.54M301.70,73.94H306.30M301.70,89.54H306.30" stroke="#A52240" stroke-width="1" fill="none" opacity="0.85"/>
<path d="M304.00,79.44L306.31,83.62L301.69,83.62Z" fill="#A52240"/>
<path d="M310.80,79.40V87.20M308.50,79.40H313.10M308.50,87.20H313.10" stroke="#A52240" stroke-width="1" fill="none" opacity="0.85"/>
<path d="M310.80,81.00L313.11,85.18L308.49,85.18Z" fill="#A52240"/>
<path d="M317.60,75.50V91.10M315.30,75.50H319.90M315.30,91.10H319.90" stroke="#A52240" stroke-width="1" fill="none" opacity="0.85"/>
<path d="M317.60,81.00L319.91,85.18L315.29,85.18Z" fill="#A52240"/>
<path d="M324.40,80.96V96.56M322.10,80.96H326.70M322.10,96.56H326.70" stroke="#A52240" stroke-width="1" fill="none" opacity="0.85"/>
<path d="M324.40,86.46L326.71,90.64L322.09,90.64Z" fill="#A52240"/>
<path d="M331.20,87.98V95.78M328.90,87.98H333.50M328.90,95.78H333.50" stroke="#A52240" stroke-width="1" fill="none" opacity="0.85"/>
<path d="M331.20,89.58L333.51,93.76L328.89,93.76Z" fill="#A52240"/>
<path d="M351.60,90.32V102.80M349.30,90.32H353.90M349.30,102.80H353.90" stroke="#A52240" stroke-width="1" fill="none" opacity="0.85"/>
<path d="M351.60,94.26L353.91,98.44L349.29,98.44Z" fill="#A52240"/>
<path d="M372.00,93.44V101.24M369.70,93.44H374.30M369.70,101.24H374.30" stroke="#A52240" stroke-width="1" fill="none" opacity="0.85"/>
<path d="M372.00,95.04L374.31,99.22L369.69,99.22Z" fill="#A52240"/>
<path d="M453.60,106.70V112.94M451.30,106.70H455.90M451.30,112.94H455.90" stroke="#A52240" stroke-width="1" fill="none" opacity="0.85"/>
<path d="M453.60,107.52L455.91,111.70L451.29,111.70Z" fill="#A52240"/>
<path d="M297.20,75.50V83.30M294.90,75.50H299.50M294.90,83.30H299.50" stroke="#2F6B4C" stroke-width="1" fill="none" opacity="0.85"/>
<path d="M297.20,81.70L299.51,77.52L294.89,77.52Z" fill="#2F6B4C"/>
<path d="M304.00,80.96V88.76M301.70,80.96H306.30M301.70,88.76H306.30" stroke="#2F6B4C" stroke-width="1" fill="none" opacity="0.85"/>
<path d="M304.00,87.16L306.31,82.98L301.69,82.98Z" fill="#2F6B4C"/>
<path d="M310.80,82.52V90.32M308.50,82.52H313.10M308.50,90.32H313.10" stroke="#2F6B4C" stroke-width="1" fill="none" opacity="0.85"/>
<path d="M310.80,88.72L313.11,84.54L308.49,84.54Z" fill="#2F6B4C"/>
<path d="M317.60,92.66V100.46M315.30,92.66H319.90M315.30,100.46H319.90" stroke="#2F6B4C" stroke-width="1" fill="none" opacity="0.85"/>
<path d="M317.60,98.86L319.91,94.68L315.29,94.68Z" fill="#2F6B4C"/>
<path d="M324.40,102.80V115.28M322.10,102.80H326.70M322.10,115.28H326.70" stroke="#2F6B4C" stroke-width="1" fill="none" opacity="0.85"/>
<path d="M324.40,111.34L326.71,107.16L322.09,107.16Z" fill="#2F6B4C"/>
<path d="M331.20,99.68V115.28M328.90,99.68H333.50M328.90,115.28H333.50" stroke="#2F6B4C" stroke-width="1" fill="none" opacity="0.85"/>
<path d="M331.20,109.78L333.51,105.60L328.89,105.60Z" fill="#2F6B4C"/>
<path d="M351.60,113.72V126.20M349.30,113.72H353.90M349.30,126.20H353.90" stroke="#2F6B4C" stroke-width="1" fill="none" opacity="0.85"/>
<path d="M351.60,122.26L353.91,118.08L349.29,118.08Z" fill="#2F6B4C"/>
<path d="M372.00,113.72V129.32M369.70,113.72H374.30M369.70,129.32H374.30" stroke="#2F6B4C" stroke-width="1" fill="none" opacity="0.85"/>
<path d="M372.00,123.82L374.31,119.64L369.69,119.64Z" fill="#2F6B4C"/>
<path d="M453.60,129.32V132.44M451.30,129.32H455.90M451.30,132.44H455.90" stroke="#2F6B4C" stroke-width="1" fill="none" opacity="0.85"/>
<path d="M453.60,133.18L455.91,129.00L451.29,129.00Z" fill="#2F6B4C"/>
<path d="M297.20,82.52V98.12M294.90,82.52H299.50M294.90,98.12H299.50" stroke="#34598F" stroke-width="1" fill="none" opacity="0.85"/>
<circle cx="297.20" cy="90.32" r="2.20" fill="#34598F"/>
<path d="M304.00,91.88V107.48M301.70,91.88H306.30M301.70,107.48H306.30" stroke="#34598F" stroke-width="1" fill="none" opacity="0.85"/>
<circle cx="304.00" cy="99.68" r="2.20" fill="#34598F"/>
<path d="M310.80,111.38V126.98M308.50,111.38H313.10M308.50,126.98H313.10" stroke="#34598F" stroke-width="1" fill="none" opacity="0.85"/>
<circle cx="310.80" cy="119.18" r="2.20" fill="#34598F"/>
<path d="M317.60,126.98V131.66M315.30,126.98H319.90M315.30,131.66H319.90" stroke="#34598F" stroke-width="1" fill="none" opacity="0.85"/>
<circle cx="317.60" cy="129.32" r="2.20" fill="#34598F"/>
<circle cx="324.40" cy="141.02" r="2.20" fill="#34598F"/>
<path d="M331.20,136.34V141.02M328.90,136.34H333.50M328.90,141.02H333.50" stroke="#34598F" stroke-width="1" fill="none" opacity="0.85"/>
<circle cx="331.20" cy="138.68" r="2.20" fill="#34598F"/>
<path d="M351.60,143.36V146.48M349.30,143.36H353.90M349.30,146.48H353.90" stroke="#34598F" stroke-width="1" fill="none" opacity="0.85"/>
<circle cx="351.60" cy="144.92" r="2.20" fill="#34598F"/>
<path d="M372.00,143.36V146.48M369.70,143.36H374.30M369.70,146.48H374.30" stroke="#34598F" stroke-width="1" fill="none" opacity="0.85"/>
<circle cx="372.00" cy="144.92" r="2.20" fill="#34598F"/>
<path d="M453.60,148.04V149.60M451.30,148.04H455.90M451.30,149.60H455.90" stroke="#34598F" stroke-width="1" fill="none" opacity="0.85"/>
<circle cx="453.60" cy="148.82" r="2.20" fill="#34598F"/>
<path d="M297.20,79.40V87.20M294.90,79.40H299.50M294.90,87.20H299.50" stroke="#6BAE48" stroke-width="1" fill="none" opacity="0.85"/>
<path d="M297.20,85.60L299.51,81.42L294.89,81.42Z" fill="#6BAE48"/>
<path d="M304.00,104.36V112.16M301.70,104.36H306.30M301.70,112.16H306.30" stroke="#6BAE48" stroke-width="1" fill="none" opacity="0.85"/>
<path d="M304.00,110.56L306.31,106.38L301.69,106.38Z" fill="#6BAE48"/>
<path d="M310.80,122.30V134.78M308.50,122.30H313.10M308.50,134.78H313.10" stroke="#6BAE48" stroke-width="1" fill="none" opacity="0.85"/>
<path d="M310.80,130.84L313.11,126.66L308.49,126.66Z" fill="#6BAE48"/>
<path d="M317.60,121.52V134.00M315.30,121.52H319.90M315.30,134.00H319.90" stroke="#6BAE48" stroke-width="1" fill="none" opacity="0.85"/>
<path d="M317.60,130.06L319.91,125.88L315.29,125.88Z" fill="#6BAE48"/>
<path d="M324.40,124.64V134.00M322.10,124.64H326.70M322.10,134.00H326.70" stroke="#6BAE48" stroke-width="1" fill="none" opacity="0.85"/>
<path d="M324.40,131.62L326.71,127.44L322.09,127.44Z" fill="#6BAE48"/>
<path d="M331.20,137.12V141.80M328.90,137.12H333.50M328.90,141.80H333.50" stroke="#6BAE48" stroke-width="1" fill="none" opacity="0.85"/>
<path d="M331.20,141.76L333.51,137.58L328.89,137.58Z" fill="#6BAE48"/>
<path d="M351.60,141.02V144.14M349.30,141.02H353.90M349.30,144.14H353.90" stroke="#6BAE48" stroke-width="1" fill="none" opacity="0.85"/>
<path d="M351.60,144.88L353.91,140.70L349.29,140.70Z" fill="#6BAE48"/>
<path d="M372.00,144.14V147.26M369.70,144.14H374.30M369.70,147.26H374.30" stroke="#6BAE48" stroke-width="1" fill="none" opacity="0.85"/>
<path d="M372.00,148.00L374.31,143.82L369.69,143.82Z" fill="#6BAE48"/>
<path d="M453.60,147.26V148.82M451.30,147.26H455.90M451.30,148.82H455.90" stroke="#6BAE48" stroke-width="1" fill="none" opacity="0.85"/>
<path d="M453.60,150.34L455.91,146.16L451.29,146.16Z" fill="#6BAE48"/>
<path d="M56.25,206.81V323.85H229.91" fill="none" stroke="#1a1a1a" stroke-width="1.3"/>
<path d="M52.75,323.85H56.25M52.75,307.63H56.25M52.75,291.41H56.25M52.75,275.19H56.25M52.75,258.97H56.25M52.75,242.75H56.25M52.75,226.53H56.25M52.75,210.31H56.25M56.25,323.85V327.45M84.63,323.85V327.45M113.00,323.85V327.45M141.38,323.85V327.45M169.75,323.85V327.45M198.13,323.85V327.45M226.51,323.85V327.45" stroke="#1a1a1a" stroke-width="1.1" fill="none"/>
<text x="49.25" y="326.15" font-size="8.6" text-anchor="end" textLength="10.4" lengthAdjust="spacingAndGlyphs" fill="#1a1a1a">0.0</text>
<text x="49.25" y="309.93" font-size="8.6" text-anchor="end" textLength="10.4" lengthAdjust="spacingAndGlyphs" fill="#1a1a1a">0.2</text>
<text x="49.25" y="293.71" font-size="8.6" text-anchor="end" textLength="10.4" lengthAdjust="spacingAndGlyphs" fill="#1a1a1a">0.4</text>
<text x="49.25" y="277.49" font-size="8.6" text-anchor="end" textLength="10.4" lengthAdjust="spacingAndGlyphs" fill="#1a1a1a">0.6</text>
<text x="49.25" y="261.27" font-size="8.6" text-anchor="end" textLength="10.4" lengthAdjust="spacingAndGlyphs" fill="#1a1a1a">0.8</text>
<text x="49.25" y="245.05" font-size="8.6" text-anchor="end" textLength="10.4" lengthAdjust="spacingAndGlyphs" fill="#1a1a1a">1.0</text>
<text x="49.25" y="228.83" font-size="8.6" text-anchor="end" textLength="10.4" lengthAdjust="spacingAndGlyphs" fill="#1a1a1a">1.2</text>
<text x="49.25" y="212.61" font-size="8.6" text-anchor="end" textLength="10.4" lengthAdjust="spacingAndGlyphs" fill="#1a1a1a">1.4</text>
<text x="56.25" y="338.45" font-size="8.6" text-anchor="middle" textLength="5.0" lengthAdjust="spacingAndGlyphs" fill="#1a1a1a">0</text>
<text x="84.63" y="338.45" font-size="8.6" text-anchor="middle" textLength="5.0" lengthAdjust="spacingAndGlyphs" fill="#1a1a1a">4</text>
<text x="113.00" y="338.45" font-size="8.6" text-anchor="middle" textLength="5.0" lengthAdjust="spacingAndGlyphs" fill="#1a1a1a">8</text>
<text x="141.38" y="338.45" font-size="8.6" text-anchor="middle" textLength="8.6" lengthAdjust="spacingAndGlyphs" fill="#1a1a1a">12</text>
<text x="169.75" y="338.45" font-size="8.6" text-anchor="middle" textLength="8.6" lengthAdjust="spacingAndGlyphs" fill="#1a1a1a">16</text>
<text x="198.13" y="338.45" font-size="8.6" text-anchor="middle" textLength="8.6" lengthAdjust="spacingAndGlyphs" fill="#1a1a1a">20</text>
<text x="226.51" y="338.45" font-size="8.6" text-anchor="middle" textLength="8.6" lengthAdjust="spacingAndGlyphs" fill="#1a1a1a">24</text>
<text x="126.70" y="199.20" font-size="10.2" textLength="34.1" lengthAdjust="spacingAndGlyphs" fill="#1a1a1a">ZNF692</text>
<text transform="translate(31.20,265.70) rotate(-90)" font-size="10" text-anchor="middle" textLength="77.2" lengthAdjust="spacingAndGlyphs" fill="#1a1a1a">Relative to time 0</text>
<polyline points="56.2,242.8 58.0,244.1 59.8,245.4 61.6,246.7 63.3,247.9 65.1,249.2 66.9,250.4 68.7,251.5 70.4,252.7 72.2,253.8 74.0,254.9 75.8,255.9 77.5,257.0 79.3,258.0 81.1,259.0 82.9,259.9 84.6,260.9 86.4,261.8 88.2,262.7 89.9,263.5 91.7,264.4 93.5,265.2 95.3,266.0 97.0,266.8 98.8,267.6 100.6,268.4 102.4,269.1 104.1,269.8 105.9,270.5 107.7,271.2 109.5,271.9 111.2,272.5 113.0,273.2 114.8,273.8 116.5,274.4 118.3,275.0 120.1,275.6 121.9,276.2 123.6,276.7 125.4,277.3 127.2,277.8 129.0,278.3 130.7,278.8 132.5,279.3 134.3,279.8 136.1,280.2 137.8,280.7 139.6,281.1 141.4,281.6 143.2,282.0 144.9,282.4 146.7,282.8 148.5,283.2 150.2,283.6 152.0,284.0 153.8,284.4 155.6,284.7 157.3,285.1 159.1,285.4 160.9,285.7 162.7,286.1 164.4,286.4 166.2,286.7 168.0,287.0 169.8,287.3 171.5,287.6 173.3,287.9 175.1,288.1 176.8,288.4 178.6,288.7 180.4,288.9 182.2,289.2 183.9,289.4 185.7,289.7 187.5,289.9 189.3,290.1 191.0,290.4 192.8,290.6 194.6,290.8 196.4,291.0 198.1,291.2 199.9,291.4 201.7,291.6 203.5,291.8 205.2,292.0 207.0,292.1 208.8,292.3 210.5,292.5 212.3,292.7 214.1,292.8 215.9,293.0 217.6,293.1 219.4,293.3 221.2,293.4 223.0,293.6 224.7,293.7 226.5,293.9" fill="none" stroke="#5E2C6C" stroke-width="1.5"/>
<polyline points="56.2,242.8 58.0,250.2 59.8,256.8 61.6,262.6 63.3,267.7 65.1,272.2 66.9,276.2 68.7,279.7 70.4,282.8 72.2,285.6 74.0,288.0 75.8,290.1 77.5,292.0 79.3,293.7 81.1,295.1 82.9,296.4 84.6,297.6 86.4,298.6 88.2,299.5 89.9,300.3 91.7,301.0 93.5,301.6 95.3,302.1 97.0,302.6 98.8,303.0 100.6,303.4 102.4,303.7 104.1,304.0 105.9,304.3 107.7,304.5 109.5,304.7 111.2,304.9 113.0,305.0 114.8,305.1 116.5,305.3 118.3,305.4 120.1,305.5 121.9,305.5 123.6,305.6 125.4,305.7 127.2,305.7 129.0,305.8 130.7,305.8 132.5,305.9 134.3,305.9 136.1,305.9 137.8,306.0 139.6,306.0 141.4,306.0 143.2,306.0 144.9,306.0 146.7,306.1 148.5,306.1 150.2,306.1 152.0,306.1 153.8,306.1 155.6,306.1 157.3,306.1 159.1,306.1 160.9,306.1 162.7,306.1 164.4,306.1 166.2,306.1 168.0,306.1 169.8,306.1 171.5,306.2 173.3,306.2 175.1,306.2 176.8,306.2 178.6,306.2 180.4,306.2 182.2,306.2 183.9,306.2 185.7,306.2 187.5,306.2 189.3,306.2 191.0,306.2 192.8,306.2 194.6,306.2 196.4,306.2 198.1,306.2 199.9,306.2 201.7,306.2 203.5,306.2 205.2,306.2 207.0,306.2 208.8,306.2 210.5,306.2 212.3,306.2 214.1,306.2 215.9,306.2 217.6,306.2 219.4,306.2 221.2,306.2 223.0,306.2 224.7,306.2 226.5,306.2" fill="none" stroke="#A52240" stroke-width="1.5"/>
<polyline points="56.2,242.8 58.0,253.4 59.8,262.4 61.6,270.0 63.3,276.4 65.1,281.8 66.9,286.3 68.7,290.1 70.4,293.4 72.2,296.1 74.0,298.4 75.8,300.4 77.5,302.0 79.3,303.4 81.1,304.6 82.9,305.6 84.6,306.4 86.4,307.1 88.2,307.7 89.9,308.2 91.7,308.6 93.5,309.0 95.3,309.3 97.0,309.5 98.8,309.7 100.6,309.9 102.4,310.1 104.1,310.2 105.9,310.3 107.7,310.4 109.5,310.5 111.2,310.5 113.0,310.6 114.8,310.6 116.5,310.7 118.3,310.7 120.1,310.7 121.9,310.7 123.6,310.8 125.4,310.8 127.2,310.8 129.0,310.8 130.7,310.8 132.5,310.8 134.3,310.8 136.1,310.8 137.8,310.8 139.6,310.9 141.4,310.9 143.2,310.9 144.9,310.9 146.7,310.9 148.5,310.9 150.2,310.9 152.0,310.9 153.8,310.9 155.6,310.9 157.3,310.9 159.1,310.9 160.9,310.9 162.7,310.9 164.4,310.9 166.2,310.9 168.0,310.9 169.8,310.9 171.5,310.9 173.3,310.9 175.1,310.9 176.8,310.9 178.6,310.9 180.4,310.9 182.2,310.9 183.9,310.9 185.7,310.9 187.5,310.9 189.3,310.9 191.0,310.9 192.8,310.9 194.6,310.9 196.4,310.9 198.1,310.9 199.9,310.9 201.7,310.9 203.5,310.9 205.2,310.9 207.0,310.9 208.8,310.9 210.5,310.9 212.3,310.9 214.1,310.9 215.9,310.9 217.6,310.9 219.4,310.9 221.2,310.9 223.0,310.9 224.7,310.9 226.5,310.9" fill="none" stroke="#2F6B4C" stroke-width="1.5"/>
<polyline points="56.2,242.8 58.0,258.5 59.8,270.8 61.6,280.3 63.3,287.8 65.1,293.6 66.9,298.1 68.7,301.6 70.4,304.3 72.2,306.5 74.0,308.1 75.8,309.4 77.5,310.4 79.3,311.2 81.1,311.8 82.9,312.3 84.6,312.7 86.4,312.9 88.2,313.2 89.9,313.3 91.7,313.5 93.5,313.6 95.3,313.7 97.0,313.7 98.8,313.8 100.6,313.8 102.4,313.8 104.1,313.9 105.9,313.9 107.7,313.9 109.5,313.9 111.2,313.9 113.0,313.9 114.8,313.9 116.5,313.9 118.3,313.9 120.1,313.9 121.9,313.9 123.6,314.0 125.4,314.0 127.2,314.0 129.0,314.0 130.7,314.0 132.5,314.0 134.3,314.0 136.1,314.0 137.8,314.0 139.6,314.0 141.4,314.0 143.2,314.0 144.9,314.0 146.7,314.0 148.5,314.0 150.2,314.0 152.0,314.0 153.8,314.0 155.6,314.0 157.3,314.0 159.1,314.0 160.9,314.0 162.7,314.0 164.4,314.0 166.2,314.0 168.0,314.0 169.8,314.0 171.5,314.0 173.3,314.0 175.1,314.0 176.8,314.0 178.6,314.0 180.4,314.0 182.2,314.0 183.9,314.0 185.7,314.0 187.5,314.0 189.3,314.0 191.0,314.0 192.8,314.0 194.6,314.0 196.4,314.0 198.1,314.0 199.9,314.0 201.7,314.0 203.5,314.0 205.2,314.0 207.0,314.0 208.8,314.0 210.5,314.0 212.3,314.0 214.1,314.0 215.9,314.0 217.6,314.0 219.4,314.0 221.2,314.0 223.0,314.0 224.7,314.0 226.5,314.0" fill="none" stroke="#34598F" stroke-width="1.5"/>
<polyline points="56.2,242.8 58.0,258.5 59.8,270.8 61.6,280.3 63.3,287.8 65.1,293.6 66.9,298.1 68.7,301.6 70.4,304.3 72.2,306.5 74.0,308.1 75.8,309.4 77.5,310.4 79.3,311.2 81.1,311.8 82.9,312.3 84.6,312.7 86.4,312.9 88.2,313.2 89.9,313.3 91.7,313.5 93.5,313.6 95.3,313.7 97.0,313.7 98.8,313.8 100.6,313.8 102.4,313.8 104.1,313.9 105.9,313.9 107.7,313.9 109.5,313.9 111.2,313.9 113.0,313.9 114.8,313.9 116.5,313.9 118.3,313.9 120.1,313.9 121.9,313.9 123.6,314.0 125.4,314.0 127.2,314.0 129.0,314.0 130.7,314.0 132.5,314.0 134.3,314.0 136.1,314.0 137.8,314.0 139.6,314.0 141.4,314.0 143.2,314.0 144.9,314.0 146.7,314.0 148.5,314.0 150.2,314.0 152.0,314.0 153.8,314.0 155.6,314.0 157.3,314.0 159.1,314.0 160.9,314.0 162.7,314.0 164.4,314.0 166.2,314.0 168.0,314.0 169.8,314.0 171.5,314.0 173.3,314.0 175.1,314.0 176.8,314.0 178.6,314.0 180.4,314.0 182.2,314.0 183.9,314.0 185.7,314.0 187.5,314.0 189.3,314.0 191.0,314.0 192.8,314.0 194.6,314.0 196.4,314.0 198.1,314.0 199.9,314.0 201.7,314.0 203.5,314.0 205.2,314.0 207.0,314.0 208.8,314.0 210.5,314.0 212.3,314.0 214.1,314.0 215.9,314.0 217.6,314.0 219.4,314.0 221.2,314.0 223.0,314.0 224.7,314.0 226.5,314.0" fill="none" stroke="#6BAE48" stroke-width="1.5"/>
<polyline points="63.34,236.51 70.44,240.32 77.53,234.64 84.63,230.59 91.72,241.94 98.81,239.10 120.10,254.10 141.38,243.56 226.51,236.67" fill="none" stroke="#E6A444" stroke-width="1.5"/>
<path d="M63.34,228.40V244.62M61.04,228.40H65.64M61.04,244.62H65.64" stroke="#E39B38" stroke-width="1" fill="none" opacity="0.85"/>
<rect x="61.14" y="234.31" width="4.40" height="4.40" fill="#E39B38"/>
<path d="M70.44,236.26V244.37M68.14,236.26H72.74M68.14,244.37H72.74" stroke="#E39B38" stroke-width="1" fill="none" opacity="0.85"/>
<rect x="68.24" y="238.12" width="4.40" height="4.40" fill="#E39B38"/>
<path d="M77.53,228.15V241.13M75.23,228.15H79.83M75.23,241.13H79.83" stroke="#E39B38" stroke-width="1" fill="none" opacity="0.85"/>
<rect x="75.33" y="232.44" width="4.40" height="4.40" fill="#E39B38"/>
<path d="M84.63,220.85V240.32M82.33,220.85H86.93M82.33,240.32H86.93" stroke="#E39B38" stroke-width="1" fill="none" opacity="0.85"/>
<rect x="82.43" y="228.39" width="4.40" height="4.40" fill="#E39B38"/>
<path d="M91.72,239.51V244.37M89.42,239.51H94.02M89.42,244.37H94.02" stroke="#E39B38" stroke-width="1" fill="none" opacity="0.85"/>
<rect x="89.52" y="239.74" width="4.40" height="4.40" fill="#E39B38"/>
<path d="M98.81,234.23V243.97M96.51,234.23H101.11M96.51,243.97H101.11" stroke="#E39B38" stroke-width="1" fill="none" opacity="0.85"/>
<rect x="96.61" y="236.90" width="4.40" height="4.40" fill="#E39B38"/>
<path d="M120.10,250.05V258.16M117.80,250.05H122.40M117.80,258.16H122.40" stroke="#E39B38" stroke-width="1" fill="none" opacity="0.85"/>
<rect x="117.90" y="251.90" width="4.40" height="4.40" fill="#E39B38"/>
<path d="M141.38,239.51V247.62M139.08,239.51H143.68M139.08,247.62H143.68" stroke="#E39B38" stroke-width="1" fill="none" opacity="0.85"/>
<rect x="139.18" y="241.36" width="4.40" height="4.40" fill="#E39B38"/>
<path d="M226.51,233.42V239.91M224.21,233.42H228.81M224.21,239.91H228.81" stroke="#E39B38" stroke-width="1" fill="none" opacity="0.85"/>
<rect x="224.31" y="234.47" width="4.40" height="4.40" fill="#E39B38"/>
<path d="M70.44,238.70V250.05M68.14,238.70H72.74M68.14,250.05H72.74" stroke="#5E2C6C" stroke-width="1" fill="none" opacity="0.85"/>
<circle cx="70.44" cy="244.37" r="2.20" fill="#5E2C6C"/>
<path d="M77.53,237.88V247.62M75.23,237.88H79.83M75.23,247.62H79.83" stroke="#5E2C6C" stroke-width="1" fill="none" opacity="0.85"/>
<circle cx="77.53" cy="242.75" r="2.20" fill="#5E2C6C"/>
<path d="M84.63,244.78V261.00M82.33,244.78H86.93M82.33,261.00H86.93" stroke="#5E2C6C" stroke-width="1" fill="none" opacity="0.85"/>
<circle cx="84.63" cy="252.89" r="2.20" fill="#5E2C6C"/>
<path d="M91.72,266.67V273.16M89.42,266.67H94.02M89.42,273.16H94.02" stroke="#5E2C6C" stroke-width="1" fill="none" opacity="0.85"/>
<circle cx="91.72" cy="269.92" r="2.20" fill="#5E2C6C"/>
<path d="M98.81,269.51V279.25M96.51,269.51H101.11M96.51,279.25H101.11" stroke="#5E2C6C" stroke-width="1" fill="none" opacity="0.85"/>
<circle cx="98.81" cy="274.38" r="2.20" fill="#5E2C6C"/>
<path d="M120.10,277.62V290.60M117.80,277.62H122.40M117.80,290.60H122.40" stroke="#5E2C6C" stroke-width="1" fill="none" opacity="0.85"/>
<circle cx="120.10" cy="284.11" r="2.20" fill="#5E2C6C"/>
<path d="M141.38,283.71V290.19M139.08,283.71H143.68M139.08,290.19H143.68" stroke="#5E2C6C" stroke-width="1" fill="none" opacity="0.85"/>
<circle cx="141.38" cy="286.95" r="2.20" fill="#5E2C6C"/>
<path d="M226.51,281.68V293.03M224.21,281.68H228.81M224.21,293.03H228.81" stroke="#5E2C6C" stroke-width="1" fill="none" opacity="0.85"/>
<circle cx="226.51" cy="287.36" r="2.20" fill="#5E2C6C"/>
<path d="M63.34,284.92V289.79M61.04,284.92H65.64M61.04,289.79H65.64" stroke="#6BAE48" stroke-width="1" fill="none" opacity="0.85"/>
<path d="M63.34,284.83L65.87,287.36L63.34,289.88L60.81,287.36Z" fill="#6BAE48"/>
<path d="M77.53,314.12V315.74M75.23,314.12H79.83M75.23,315.74H79.83" stroke="#6BAE48" stroke-width="1" fill="none" opacity="0.85"/>
<path d="M77.53,312.40L80.06,314.93L77.53,317.46L75.00,314.93Z" fill="#6BAE48"/>
<path d="M91.72,314.12V315.74M89.42,314.12H94.02M89.42,315.74H94.02" stroke="#6BAE48" stroke-width="1" fill="none" opacity="0.85"/>
<path d="M91.72,312.40L94.25,314.93L91.72,317.46L89.19,314.93Z" fill="#6BAE48"/>
<path d="M226.51,315.74V317.36M224.21,315.74H228.81M224.21,317.36H228.81" stroke="#6BAE48" stroke-width="1" fill="none" opacity="0.85"/>
<path d="M226.51,314.02L229.04,316.55L226.51,319.08L223.98,316.55Z" fill="#6BAE48"/>
<path d="M63.34,257.67V273.89M61.04,257.67H65.64M61.04,273.89H65.64" stroke="#A52240" stroke-width="1" fill="none" opacity="0.85"/>
<path d="M63.34,263.48L65.65,267.66L61.03,267.66Z" fill="#A52240"/>
<path d="M70.44,280.46V286.95M68.14,280.46H72.74M68.14,286.95H72.74" stroke="#A52240" stroke-width="1" fill="none" opacity="0.85"/>
<path d="M70.44,281.41L72.75,285.59L68.13,285.59Z" fill="#A52240"/>
<path d="M77.53,295.79V299.03M75.23,295.79H79.83M75.23,299.03H79.83" stroke="#A52240" stroke-width="1" fill="none" opacity="0.85"/>
<path d="M77.53,295.11L79.84,299.29L75.22,299.29Z" fill="#A52240"/>
<path d="M84.63,302.76V306.01M82.33,302.76H86.93M82.33,306.01H86.93" stroke="#A52240" stroke-width="1" fill="none" opacity="0.85"/>
<path d="M84.63,302.09L86.94,306.27L82.32,306.27Z" fill="#A52240"/>
<path d="M91.72,301.55V304.79M89.42,301.55H94.02M89.42,304.79H94.02" stroke="#A52240" stroke-width="1" fill="none" opacity="0.85"/>
<path d="M91.72,300.87L94.03,305.05L89.41,305.05Z" fill="#A52240"/>
<path d="M98.81,305.68V308.93M96.51,305.68H101.11M96.51,308.93H101.11" stroke="#A52240" stroke-width="1" fill="none" opacity="0.85"/>
<path d="M98.81,305.01L101.12,309.19L96.50,309.19Z" fill="#A52240"/>
<path d="M120.10,304.55V307.79M117.80,304.55H122.40M117.80,307.79H122.40" stroke="#A52240" stroke-width="1" fill="none" opacity="0.85"/>
<path d="M120.10,303.87L122.41,308.05L117.79,308.05Z" fill="#A52240"/>
<path d="M141.38,303.41V306.66M139.08,303.41H143.68M139.08,306.66H143.68" stroke="#A52240" stroke-width="1" fill="none" opacity="0.85"/>
<path d="M141.38,302.74L143.69,306.92L139.07,306.92Z" fill="#A52240"/>
<path d="M226.51,293.03V309.25M224.21,293.03H228.81M224.21,309.25H228.81" stroke="#A52240" stroke-width="1" fill="none" opacity="0.85"/>
<path d="M226.51,298.84L228.82,303.02L224.20,303.02Z" fill="#A52240"/>
<path d="M63.34,266.27V271.13M61.04,266.27H65.64M61.04,271.13H65.64" stroke="#2F6B4C" stroke-width="1" fill="none" opacity="0.85"/>
<path d="M63.34,271.00L65.65,266.82L61.03,266.82Z" fill="#2F6B4C"/>
<path d="M70.44,290.60V295.47M68.14,290.60H72.74M68.14,295.47H72.74" stroke="#2F6B4C" stroke-width="1" fill="none" opacity="0.85"/>
<path d="M70.44,295.33L72.75,291.15L68.13,291.15Z" fill="#2F6B4C"/>
<path d="M77.53,303.82V308.68M75.23,303.82H79.83M75.23,308.68H79.83" stroke="#2F6B4C" stroke-width="1" fill="none" opacity="0.85"/>
<path d="M77.53,308.55L79.84,304.37L75.22,304.37Z" fill="#2F6B4C"/>
<path d="M84.63,306.33V311.20M82.33,306.33H86.93M82.33,311.20H86.93" stroke="#2F6B4C" stroke-width="1" fill="none" opacity="0.85"/>
<path d="M84.63,311.06L86.94,306.88L82.32,306.88Z" fill="#2F6B4C"/>
<path d="M91.72,309.25V312.50M89.42,309.25H94.02M89.42,312.50H94.02" stroke="#2F6B4C" stroke-width="1" fill="none" opacity="0.85"/>
<path d="M91.72,313.17L94.03,308.99L89.41,308.99Z" fill="#2F6B4C"/>
<path d="M98.81,306.82V310.06M96.51,306.82H101.11M96.51,310.06H101.11" stroke="#2F6B4C" stroke-width="1" fill="none" opacity="0.85"/>
<path d="M98.81,310.74L101.12,306.56L96.50,306.56Z" fill="#2F6B4C"/>
<path d="M120.10,308.44V311.69M117.80,308.44H122.40M117.80,311.69H122.40" stroke="#2F6B4C" stroke-width="1" fill="none" opacity="0.85"/>
<path d="M120.10,312.36L122.41,308.18L117.79,308.18Z" fill="#2F6B4C"/>
<path d="M141.38,307.39V310.63M139.08,307.39H143.68M139.08,310.63H143.68" stroke="#2F6B4C" stroke-width="1" fill="none" opacity="0.85"/>
<path d="M141.38,311.31L143.69,307.13L139.07,307.13Z" fill="#2F6B4C"/>
<path d="M226.51,306.82V310.06M224.21,306.82H228.81M224.21,310.06H228.81" stroke="#2F6B4C" stroke-width="1" fill="none" opacity="0.85"/>
<path d="M226.51,310.74L228.82,306.56L224.20,306.56Z" fill="#2F6B4C"/>
<path d="M63.34,282.16V287.03M61.04,282.16H65.64M61.04,287.03H65.64" stroke="#34598F" stroke-width="1" fill="none" opacity="0.85"/>
<circle cx="63.34" cy="284.60" r="2.20" fill="#34598F"/>
<path d="M70.44,309.25V314.12M68.14,309.25H72.74M68.14,314.12H72.74" stroke="#34598F" stroke-width="1" fill="none" opacity="0.85"/>
<circle cx="70.44" cy="311.69" r="2.20" fill="#34598F"/>
<path d="M77.53,312.09V315.33M75.23,312.09H79.83M75.23,315.33H79.83" stroke="#34598F" stroke-width="1" fill="none" opacity="0.85"/>
<circle cx="77.53" cy="313.71" r="2.20" fill="#34598F"/>
<path d="M84.63,315.50V317.12M82.33,315.50H86.93M82.33,317.12H86.93" stroke="#34598F" stroke-width="1" fill="none" opacity="0.85"/>
<circle cx="84.63" cy="316.31" r="2.20" fill="#34598F"/>
<path d="M91.72,313.31V316.55M89.42,313.31H94.02M89.42,316.55H94.02" stroke="#34598F" stroke-width="1" fill="none" opacity="0.85"/>
<circle cx="91.72" cy="314.93" r="2.20" fill="#34598F"/>
<path d="M98.81,310.31V313.55M96.51,310.31H101.11M96.51,313.55H101.11" stroke="#34598F" stroke-width="1" fill="none" opacity="0.85"/>
<circle cx="98.81" cy="311.93" r="2.20" fill="#34598F"/>
<path d="M120.10,312.50V314.12M117.80,312.50H122.40M117.80,314.12H122.40" stroke="#34598F" stroke-width="1" fill="none" opacity="0.85"/>
<circle cx="120.10" cy="313.31" r="2.20" fill="#34598F"/>
<path d="M141.38,311.69V313.31M139.08,311.69H143.68M139.08,313.31H143.68" stroke="#34598F" stroke-width="1" fill="none" opacity="0.85"/>
<circle cx="141.38" cy="312.50" r="2.20" fill="#34598F"/>
<path d="M226.51,313.63V315.25M224.21,313.63H228.81M224.21,315.25H228.81" stroke="#34598F" stroke-width="1" fill="none" opacity="0.85"/>
<circle cx="226.51" cy="314.44" r="2.20" fill="#34598F"/>
<path d="M290.40,206.81V323.85H464.39" fill="none" stroke="#1a1a1a" stroke-width="1.3"/>
<path d="M286.90,323.85H290.40M286.90,307.63H290.40M286.90,291.41H290.40M286.90,275.19H290.40M286.90,258.97H290.40M286.90,242.75H290.40M286.90,226.53H290.40M286.90,210.31H290.40M290.40,323.85V327.45M318.83,323.85V327.45M347.26,323.85V327.45M375.70,323.85V327.45M404.13,323.85V327.45M432.56,323.85V327.45M460.99,323.85V327.45" stroke="#1a1a1a" stroke-width="1.1" fill="none"/>
<text x="283.40" y="326.15" font-size="8.6" text-anchor="end" textLength="10.4" lengthAdjust="spacingAndGlyphs" fill="#1a1a1a">0.0</text>
<text x="283.40" y="309.93" font-size="8.6" text-anchor="end" textLength="10.4" lengthAdjust="spacingAndGlyphs" fill="#1a1a1a">0.2</text>
<text x="283.40" y="293.71" font-size="8.6" text-anchor="end" textLength="10.4" lengthAdjust="spacingAndGlyphs" fill="#1a1a1a">0.4</text>
<text x="283.40" y="277.49" font-size="8.6" text-anchor="end" textLength="10.4" lengthAdjust="spacingAndGlyphs" fill="#1a1a1a">0.6</text>
<text x="283.40" y="261.27" font-size="8.6" text-anchor="end" textLength="10.4" lengthAdjust="spacingAndGlyphs" fill="#1a1a1a">0.8</text>
<text x="283.40" y="245.05" font-size="8.6" text-anchor="end" textLength="10.4" lengthAdjust="spacingAndGlyphs" fill="#1a1a1a">1.0</text>
<text x="283.40" y="228.83" font-size="8.6" text-anchor="end" textLength="10.4" lengthAdjust="spacingAndGlyphs" fill="#1a1a1a">1.2</text>
<text x="283.40" y="212.61" font-size="8.6" text-anchor="end" textLength="10.4" lengthAdjust="spacingAndGlyphs" fill="#1a1a1a">1.4</text>
<text x="290.40" y="338.45" font-size="8.6" text-anchor="middle" textLength="5.0" lengthAdjust="spacingAndGlyphs" fill="#1a1a1a">0</text>
<text x="318.83" y="338.45" font-size="8.6" text-anchor="middle" textLength="5.0" lengthAdjust="spacingAndGlyphs" fill="#1a1a1a">4</text>
<text x="347.26" y="338.45" font-size="8.6" text-anchor="middle" textLength="5.0" lengthAdjust="spacingAndGlyphs" fill="#1a1a1a">8</text>
<text x="375.70" y="338.45" font-size="8.6" text-anchor="middle" textLength="8.6" lengthAdjust="spacingAndGlyphs" fill="#1a1a1a">12</text>
<text x="404.13" y="338.45" font-size="8.6" text-anchor="middle" textLength="8.6" lengthAdjust="spacingAndGlyphs" fill="#1a1a1a">16</text>
<text x="432.56" y="338.45" font-size="8.6" text-anchor="middle" textLength="8.6" lengthAdjust="spacingAndGlyphs" fill="#1a1a1a">20</text>
<text x="460.99" y="338.45" font-size="8.6" text-anchor="middle" textLength="8.6" lengthAdjust="spacingAndGlyphs" fill="#1a1a1a">24</text>
<text x="361.40" y="199.10" font-size="10.3" textLength="16.0" lengthAdjust="spacingAndGlyphs" fill="#1a1a1a">CK1</text>
<text x="378.00" y="199.10" font-size="11.6" font-family="Liberation Serif" font-style="italic" textLength="7.2" lengthAdjust="spacingAndGlyphs" fill="#1a1a1a">α</text>
<polyline points="290.4,242.8 292.2,242.1 294.0,241.5 295.7,241.0 297.5,240.5 299.3,240.1 301.1,239.8 302.8,239.4 304.6,239.2 306.4,238.9 308.2,238.7 309.9,238.5 311.7,238.3 313.5,238.2 315.3,238.1 317.1,237.9 318.8,237.8 320.6,237.8 322.4,237.7 324.2,237.6 325.9,237.5 327.7,237.5 329.5,237.4 331.3,237.4 333.0,237.4 334.8,237.3 336.6,237.3 338.4,237.3 340.2,237.2 341.9,237.2 343.7,237.2 345.5,237.2 347.3,237.2 349.0,237.2 350.8,237.2 352.6,237.1 354.4,237.1 356.1,237.1 357.9,237.1 359.7,237.1 361.5,237.1 363.3,237.1 365.0,237.1 366.8,237.1 368.6,237.1 370.4,237.1 372.1,237.1 373.9,237.1 375.7,237.1 377.5,237.1 379.2,237.1 381.0,237.1 382.8,237.1 384.6,237.1 386.4,237.1 388.1,237.1 389.9,237.1 391.7,237.1 393.5,237.1 395.2,237.1 397.0,237.1 398.8,237.1 400.6,237.1 402.4,237.1 404.1,237.1 405.9,237.1 407.7,237.1 409.5,237.1 411.2,237.1 413.0,237.1 414.8,237.1 416.6,237.1 418.3,237.1 420.1,237.1 421.9,237.1 423.7,237.1 425.5,237.1 427.2,237.1 429.0,237.1 430.8,237.1 432.6,237.1 434.3,237.1 436.1,237.1 437.9,237.1 439.7,237.1 441.4,237.1 443.2,237.1 445.0,237.1 446.8,237.1 448.6,237.1 450.3,237.1 452.1,237.1 453.9,237.1 455.7,237.1 457.4,237.1 459.2,237.1 461.0,237.1" fill="none" stroke="#E6A444" stroke-width="1.5"/>
<polyline points="290.4,242.8 292.2,242.9 294.0,243.0 295.7,243.2 297.5,243.3 299.3,243.4 301.1,243.6 302.8,243.7 304.6,243.8 306.4,243.9 308.2,244.0 309.9,244.1 311.7,244.2 313.5,244.3 315.3,244.4 317.1,244.5 318.8,244.6 320.6,244.7 322.4,244.8 324.2,244.9 325.9,244.9 327.7,245.0 329.5,245.1 331.3,245.2 333.0,245.2 334.8,245.3 336.6,245.4 338.4,245.5 340.2,245.5 341.9,245.6 343.7,245.6 345.5,245.7 347.3,245.8 349.0,245.8 350.8,245.9 352.6,245.9 354.4,246.0 356.1,246.0 357.9,246.1 359.7,246.1 361.5,246.2 363.3,246.2 365.0,246.2 366.8,246.3 368.6,246.3 370.4,246.4 372.1,246.4 373.9,246.4 375.7,246.5 377.5,246.5 379.2,246.5 381.0,246.6 382.8,246.6 384.6,246.6 386.4,246.7 388.1,246.7 389.9,246.7 391.7,246.7 393.5,246.8 395.2,246.8 397.0,246.8 398.8,246.8 400.6,246.9 402.4,246.9 404.1,246.9 405.9,246.9 407.7,246.9 409.5,247.0 411.2,247.0 413.0,247.0 414.8,247.0 416.6,247.0 418.3,247.1 420.1,247.1 421.9,247.1 423.7,247.1 425.5,247.1 427.2,247.1 429.0,247.1 430.8,247.2 432.6,247.2 434.3,247.2 436.1,247.2 437.9,247.2 439.7,247.2 441.4,247.2 443.2,247.2 445.0,247.3 446.8,247.3 448.6,247.3 450.3,247.3 452.1,247.3 453.9,247.3 455.7,247.3 457.4,247.3 459.2,247.3 461.0,247.3" fill="none" stroke="#2F6B4C" stroke-width="1.5"/>
<polyline points="290.4,242.8 292.2,243.1 294.0,243.4 295.7,243.7 297.5,244.0 299.3,244.3 301.1,244.5 302.8,244.8 304.6,245.1 306.4,245.3 308.2,245.6 309.9,245.8 311.7,246.1 313.5,246.3 315.3,246.5 317.1,246.7 318.8,246.9 320.6,247.1 322.4,247.3 324.2,247.5 325.9,247.7 327.7,247.9 329.5,248.1 331.3,248.3 333.0,248.4 334.8,248.6 336.6,248.8 338.4,248.9 340.2,249.1 341.9,249.2 343.7,249.4 345.5,249.5 347.3,249.6 349.0,249.8 350.8,249.9 352.6,250.0 354.4,250.1 356.1,250.3 357.9,250.4 359.7,250.5 361.5,250.6 363.3,250.7 365.0,250.8 366.8,250.9 368.6,251.0 370.4,251.1 372.1,251.2 373.9,251.3 375.7,251.4 377.5,251.5 379.2,251.5 381.0,251.6 382.8,251.7 384.6,251.8 386.4,251.8 388.1,251.9 389.9,252.0 391.7,252.1 393.5,252.1 395.2,252.2 397.0,252.3 398.8,252.3 400.6,252.4 402.4,252.4 404.1,252.5 405.9,252.5 407.7,252.6 409.5,252.6 411.2,252.7 413.0,252.7 414.8,252.8 416.6,252.8 418.3,252.9 420.1,252.9 421.9,253.0 423.7,253.0 425.5,253.1 427.2,253.1 429.0,253.1 430.8,253.2 432.6,253.2 434.3,253.2 436.1,253.3 437.9,253.3 439.7,253.3 441.4,253.4 443.2,253.4 445.0,253.4 446.8,253.5 448.6,253.5 450.3,253.5 452.1,253.5 453.9,253.6 455.7,253.6 457.4,253.6 459.2,253.6 461.0,253.7" fill="none" stroke="#6BAE48" stroke-width="1.5"/>
<polyline points="290.4,242.8 292.2,243.9 294.0,244.9 295.7,245.9 297.5,246.7 299.3,247.6 301.1,248.3 302.8,249.0 304.6,249.7 306.4,250.3 308.2,250.9 309.9,251.4 311.7,251.9 313.5,252.3 315.3,252.8 317.1,253.2 318.8,253.5 320.6,253.9 322.4,254.2 324.2,254.5 325.9,254.7 327.7,255.0 329.5,255.2 331.3,255.4 333.0,255.6 334.8,255.8 336.6,256.0 338.4,256.1 340.2,256.3 341.9,256.4 343.7,256.5 345.5,256.7 347.3,256.8 349.0,256.9 350.8,257.0 352.6,257.0 354.4,257.1 356.1,257.2 357.9,257.3 359.7,257.3 361.5,257.4 363.3,257.4 365.0,257.5 366.8,257.5 368.6,257.6 370.4,257.6 372.1,257.7 373.9,257.7 375.7,257.7 377.5,257.8 379.2,257.8 381.0,257.8 382.8,257.8 384.6,257.9 386.4,257.9 388.1,257.9 389.9,257.9 391.7,257.9 393.5,258.0 395.2,258.0 397.0,258.0 398.8,258.0 400.6,258.0 402.4,258.0 404.1,258.0 405.9,258.0 407.7,258.0 409.5,258.1 411.2,258.1 413.0,258.1 414.8,258.1 416.6,258.1 418.3,258.1 420.1,258.1 421.9,258.1 423.7,258.1 425.5,258.1 427.2,258.1 429.0,258.1 430.8,258.1 432.6,258.1 434.3,258.1 436.1,258.1 437.9,258.1 439.7,258.1 441.4,258.1 443.2,258.1 445.0,258.1 446.8,258.1 448.6,258.1 450.3,258.1 452.1,258.1 453.9,258.1 455.7,258.1 457.4,258.1 459.2,258.1 461.0,258.1" fill="none" stroke="#34598F" stroke-width="1.5"/>
<polyline points="290.4,242.8 292.2,244.5 294.0,246.2 295.7,247.7 297.5,249.2 299.3,250.6 301.1,251.9 302.8,253.1 304.6,254.2 306.4,255.3 308.2,256.3 309.9,257.3 311.7,258.2 313.5,259.0 315.3,259.8 317.1,260.5 318.8,261.2 320.6,261.9 322.4,262.5 324.2,263.0 325.9,263.6 327.7,264.1 329.5,264.6 331.3,265.0 333.0,265.4 334.8,265.8 336.6,266.2 338.4,266.5 340.2,266.9 341.9,267.2 343.7,267.5 345.5,267.7 347.3,268.0 349.0,268.2 350.8,268.5 352.6,268.7 354.4,268.9 356.1,269.1 357.9,269.2 359.7,269.4 361.5,269.5 363.3,269.7 365.0,269.8 366.8,270.0 368.6,270.1 370.4,270.2 372.1,270.3 373.9,270.4 375.7,270.5 377.5,270.6 379.2,270.7 381.0,270.7 382.8,270.8 384.6,270.9 386.4,270.9 388.1,271.0 389.9,271.1 391.7,271.1 393.5,271.2 395.2,271.2 397.0,271.3 398.8,271.3 400.6,271.3 402.4,271.4 404.1,271.4 405.9,271.4 407.7,271.5 409.5,271.5 411.2,271.5 413.0,271.6 414.8,271.6 416.6,271.6 418.3,271.6 420.1,271.6 421.9,271.7 423.7,271.7 425.5,271.7 427.2,271.7 429.0,271.7 430.8,271.7 432.6,271.7 434.3,271.8 436.1,271.8 437.9,271.8 439.7,271.8 441.4,271.8 443.2,271.8 445.0,271.8 446.8,271.8 448.6,271.8 450.3,271.8 452.1,271.8 453.9,271.9 455.7,271.9 457.4,271.9 459.2,271.9 461.0,271.9" fill="none" stroke="#A52240" stroke-width="1.5"/>
<polyline points="290.4,242.8 292.2,244.8 294.0,246.8 295.7,248.7 297.5,250.6 299.3,252.4 301.1,254.1 302.8,255.8 304.6,257.4 306.4,259.0 308.2,260.5 309.9,262.0 311.7,263.4 313.5,264.7 315.3,266.1 317.1,267.3 318.8,268.6 320.6,269.7 322.4,270.9 324.2,272.0 325.9,273.1 327.7,274.1 329.5,275.1 331.3,276.1 333.0,277.0 334.8,277.9 336.6,278.8 338.4,279.6 340.2,280.4 341.9,281.2 343.7,282.0 345.5,282.7 347.3,283.4 349.0,284.1 350.8,284.8 352.6,285.4 354.4,286.0 356.1,286.6 357.9,287.2 359.7,287.7 361.5,288.3 363.3,288.8 365.0,289.3 366.8,289.8 368.6,290.2 370.4,290.7 372.1,291.1 373.9,291.6 375.7,292.0 377.5,292.4 379.2,292.7 381.0,293.1 382.8,293.5 384.6,293.8 386.4,294.1 388.1,294.5 389.9,294.8 391.7,295.1 393.5,295.4 395.2,295.6 397.0,295.9 398.8,296.2 400.6,296.4 402.4,296.7 404.1,296.9 405.9,297.1 407.7,297.3 409.5,297.5 411.2,297.8 413.0,297.9 414.8,298.1 416.6,298.3 418.3,298.5 420.1,298.7 421.9,298.8 423.7,299.0 425.5,299.2 427.2,299.3 429.0,299.5 430.8,299.6 432.6,299.7 434.3,299.9 436.1,300.0 437.9,300.1 439.7,300.2 441.4,300.3 443.2,300.4 445.0,300.6 446.8,300.7 448.6,300.8 450.3,300.8 452.1,300.9 453.9,301.0 455.7,301.1 457.4,301.2 459.2,301.3 461.0,301.4" fill="none" stroke="#5E2C6C" stroke-width="1.5"/>
<path d="M297.51,237.40V242.26M295.21,237.40H299.81M295.21,242.26H299.81" stroke="#E39B38" stroke-width="1" fill="none" opacity="0.85"/>
<rect x="295.31" y="237.63" width="4.40" height="4.40" fill="#E39B38"/>
<path d="M304.62,234.64V241.13M302.32,234.64H306.92M302.32,241.13H306.92" stroke="#E39B38" stroke-width="1" fill="none" opacity="0.85"/>
<rect x="302.42" y="235.68" width="4.40" height="4.40" fill="#E39B38"/>
<path d="M311.72,236.26V242.75M309.42,236.26H314.02M309.42,242.75H314.02" stroke="#E39B38" stroke-width="1" fill="none" opacity="0.85"/>
<rect x="309.52" y="237.31" width="4.40" height="4.40" fill="#E39B38"/>
<path d="M318.83,224.50V234.23M316.53,224.50H321.13M316.53,234.23H321.13" stroke="#E39B38" stroke-width="1" fill="none" opacity="0.85"/>
<rect x="316.63" y="227.17" width="4.40" height="4.40" fill="#E39B38"/>
<path d="M325.94,222.48V233.83M323.64,222.48H328.24M323.64,233.83H328.24" stroke="#E39B38" stroke-width="1" fill="none" opacity="0.85"/>
<rect x="323.74" y="225.95" width="4.40" height="4.40" fill="#E39B38"/>
<path d="M333.05,236.26V239.51M330.75,236.26H335.35M330.75,239.51H335.35" stroke="#E39B38" stroke-width="1" fill="none" opacity="0.85"/>
<rect x="330.85" y="235.68" width="4.40" height="4.40" fill="#E39B38"/>
<path d="M354.37,240.64V245.51M352.07,240.64H356.67M352.07,245.51H356.67" stroke="#E39B38" stroke-width="1" fill="none" opacity="0.85"/>
<rect x="352.17" y="240.87" width="4.40" height="4.40" fill="#E39B38"/>
<path d="M375.70,238.69V241.94M373.40,238.69H378.00M373.40,241.94H378.00" stroke="#E39B38" stroke-width="1" fill="none" opacity="0.85"/>
<rect x="373.50" y="238.12" width="4.40" height="4.40" fill="#E39B38"/>
<path d="M460.99,232.45V237.32M458.69,232.45H463.29M458.69,237.32H463.29" stroke="#E39B38" stroke-width="1" fill="none" opacity="0.85"/>
<rect x="458.79" y="232.68" width="4.40" height="4.40" fill="#E39B38"/>
<path d="M297.51,233.99V238.86M295.21,233.99H299.81M295.21,238.86H299.81" stroke="#2F6B4C" stroke-width="1" fill="none" opacity="0.85"/>
<circle cx="297.51" cy="236.42" r="2.20" fill="#2F6B4C"/>
<path d="M304.62,238.70V246.81M302.32,238.70H306.92M302.32,246.81H306.92" stroke="#2F6B4C" stroke-width="1" fill="none" opacity="0.85"/>
<circle cx="304.62" cy="242.75" r="2.20" fill="#2F6B4C"/>
<path d="M311.72,237.88V247.62M309.42,237.88H314.02M309.42,247.62H314.02" stroke="#2F6B4C" stroke-width="1" fill="none" opacity="0.85"/>
<circle cx="311.72" cy="242.75" r="2.20" fill="#2F6B4C"/>
<path d="M318.83,236.26V245.99M316.53,236.26H321.13M316.53,245.99H321.13" stroke="#2F6B4C" stroke-width="1" fill="none" opacity="0.85"/>
<circle cx="318.83" cy="241.13" r="2.20" fill="#2F6B4C"/>
<path d="M325.94,245.43V253.54M323.64,245.43H328.24M323.64,253.54H328.24" stroke="#2F6B4C" stroke-width="1" fill="none" opacity="0.85"/>
<circle cx="325.94" cy="249.48" r="2.20" fill="#2F6B4C"/>
<path d="M333.05,240.64V247.13M330.75,240.64H335.35M330.75,247.13H335.35" stroke="#2F6B4C" stroke-width="1" fill="none" opacity="0.85"/>
<circle cx="333.05" cy="243.89" r="2.20" fill="#2F6B4C"/>
<path d="M354.37,250.54V255.40M352.07,250.54H356.67M352.07,255.40H356.67" stroke="#2F6B4C" stroke-width="1" fill="none" opacity="0.85"/>
<circle cx="354.37" cy="252.97" r="2.20" fill="#2F6B4C"/>
<path d="M375.70,245.99V252.48M373.40,245.99H378.00M373.40,252.48H378.00" stroke="#2F6B4C" stroke-width="1" fill="none" opacity="0.85"/>
<circle cx="375.70" cy="249.24" r="2.20" fill="#2F6B4C"/>
<path d="M460.99,240.32V245.18M458.69,240.32H463.29M458.69,245.18H463.29" stroke="#2F6B4C" stroke-width="1" fill="none" opacity="0.85"/>
<circle cx="460.99" cy="242.75" r="2.20" fill="#2F6B4C"/>
<path d="M297.51,243.97V266.67M295.21,243.97H299.81M295.21,266.67H299.81" stroke="#6BAE48" stroke-width="1" fill="none" opacity="0.85"/>
<path d="M297.51,252.79L300.04,255.32L297.51,257.85L294.98,255.32Z" fill="#6BAE48"/>
<path d="M304.62,246.81V254.92M302.32,246.81H306.92M302.32,254.92H306.92" stroke="#6BAE48" stroke-width="1" fill="none" opacity="0.85"/>
<path d="M304.62,248.33L307.15,250.86L304.62,253.39L302.09,250.86Z" fill="#6BAE48"/>
<path d="M311.72,240.32V269.51M309.42,240.32H314.02M309.42,269.51H314.02" stroke="#6BAE48" stroke-width="1" fill="none" opacity="0.85"/>
<path d="M311.72,252.39L314.25,254.92L311.72,257.44L309.19,254.92Z" fill="#6BAE48"/>
<path d="M318.83,242.75V250.86M316.53,242.75H321.13M316.53,250.86H321.13" stroke="#6BAE48" stroke-width="1" fill="none" opacity="0.85"/>
<path d="M318.83,244.28L321.36,246.81L318.83,249.34L316.30,246.81Z" fill="#6BAE48"/>
<path d="M325.94,240.32V256.54M323.64,240.32H328.24M323.64,256.54H328.24" stroke="#6BAE48" stroke-width="1" fill="none" opacity="0.85"/>
<path d="M325.94,245.90L328.47,248.43L325.94,250.96L323.41,248.43Z" fill="#6BAE48"/>
<path d="M333.05,247.94V252.81M330.75,247.94H335.35M330.75,252.81H335.35" stroke="#6BAE48" stroke-width="1" fill="none" opacity="0.85"/>
<path d="M333.05,247.84L335.58,250.37L333.05,252.90L330.52,250.37Z" fill="#6BAE48"/>
<path d="M354.37,250.05V254.92M352.07,250.05H356.67M352.07,254.92H356.67" stroke="#6BAE48" stroke-width="1" fill="none" opacity="0.85"/>
<path d="M354.37,249.95L356.90,252.48L354.37,255.01L351.84,252.48Z" fill="#6BAE48"/>
<path d="M375.70,250.05V254.92M373.40,250.05H378.00M373.40,254.92H378.00" stroke="#6BAE48" stroke-width="1" fill="none" opacity="0.85"/>
<path d="M375.70,249.95L378.23,252.48L375.70,255.01L373.17,252.48Z" fill="#6BAE48"/>
<path d="M460.99,251.67V254.92M458.69,251.67H463.29M458.69,254.92H463.29" stroke="#6BAE48" stroke-width="1" fill="none" opacity="0.85"/>
<path d="M460.99,250.76L463.52,253.29L460.99,255.82L458.46,253.29Z" fill="#6BAE48"/>
<path d="M297.51,245.99V250.86M295.21,245.99H299.81M295.21,250.86H299.81" stroke="#34598F" stroke-width="1" fill="none" opacity="0.85"/>
<path d="M297.51,246.13L299.82,250.31L295.20,250.31Z" fill="#34598F"/>
<path d="M304.62,243.97V250.45M302.32,243.97H306.92M302.32,250.45H306.92" stroke="#34598F" stroke-width="1" fill="none" opacity="0.85"/>
<path d="M304.62,244.91L306.93,249.09L302.31,249.09Z" fill="#34598F"/>
<path d="M311.72,245.99V254.10M309.42,245.99H314.02M309.42,254.10H314.02" stroke="#34598F" stroke-width="1" fill="none" opacity="0.85"/>
<path d="M311.72,247.75L314.03,251.93L309.41,251.93Z" fill="#34598F"/>
<path d="M318.83,250.05V256.54M316.53,250.05H321.13M316.53,256.54H321.13" stroke="#34598F" stroke-width="1" fill="none" opacity="0.85"/>
<path d="M318.83,250.99L321.14,255.17L316.52,255.17Z" fill="#34598F"/>
<path d="M325.94,252.48V257.35M323.64,252.48H328.24M323.64,257.35H328.24" stroke="#34598F" stroke-width="1" fill="none" opacity="0.85"/>
<path d="M325.94,252.62L328.25,256.80L323.63,256.80Z" fill="#34598F"/>
<path d="M333.05,254.92V258.16M330.75,254.92H335.35M330.75,258.16H335.35" stroke="#34598F" stroke-width="1" fill="none" opacity="0.85"/>
<path d="M333.05,254.24L335.36,258.42L330.74,258.42Z" fill="#34598F"/>
<path d="M354.37,250.86V255.73M352.07,250.86H356.67M352.07,255.73H356.67" stroke="#34598F" stroke-width="1" fill="none" opacity="0.85"/>
<path d="M354.37,250.99L356.68,255.17L352.06,255.17Z" fill="#34598F"/>
<path d="M375.70,255.73V258.97M373.40,255.73H378.00M373.40,258.97H378.00" stroke="#34598F" stroke-width="1" fill="none" opacity="0.85"/>
<path d="M375.70,255.05L378.01,259.23L373.39,259.23Z" fill="#34598F"/>
<path d="M460.99,258.97V262.21M458.69,258.97H463.29M458.69,262.21H463.29" stroke="#34598F" stroke-width="1" fill="none" opacity="0.85"/>
<path d="M460.99,258.29L463.30,262.47L458.68,262.47Z" fill="#34598F"/>
<path d="M297.51,246.81V254.92M295.21,246.81H299.81M295.21,254.92H299.81" stroke="#A52240" stroke-width="1" fill="none" opacity="0.85"/>
<path d="M297.51,253.16L299.82,248.98L295.20,248.98Z" fill="#A52240"/>
<path d="M304.62,250.86V258.97M302.32,250.86H306.92M302.32,258.97H306.92" stroke="#A52240" stroke-width="1" fill="none" opacity="0.85"/>
<path d="M304.62,257.21L306.93,253.03L302.31,253.03Z" fill="#A52240"/>
<path d="M311.72,255.73V263.84M309.42,255.73H314.02M309.42,263.84H314.02" stroke="#A52240" stroke-width="1" fill="none" opacity="0.85"/>
<path d="M311.72,262.08L314.03,257.90L309.41,257.90Z" fill="#A52240"/>
<path d="M318.83,253.70V260.19M316.53,253.70H321.13M316.53,260.19H321.13" stroke="#A52240" stroke-width="1" fill="none" opacity="0.85"/>
<path d="M318.83,259.24L321.14,255.06L316.52,255.06Z" fill="#A52240"/>
<path d="M325.94,254.51V259.38M323.64,254.51H328.24M323.64,259.38H328.24" stroke="#A52240" stroke-width="1" fill="none" opacity="0.85"/>
<path d="M325.94,259.24L328.25,255.06L323.63,255.06Z" fill="#A52240"/>
<path d="M333.05,267.57V270.81M330.75,267.57H335.35M330.75,270.81H335.35" stroke="#A52240" stroke-width="1" fill="none" opacity="0.85"/>
<path d="M333.05,271.49L335.36,267.31L330.74,267.31Z" fill="#A52240"/>
<path d="M354.37,264.48V267.73M352.07,264.48H356.67M352.07,267.73H356.67" stroke="#A52240" stroke-width="1" fill="none" opacity="0.85"/>
<path d="M354.37,268.41L356.68,264.23L352.06,264.23Z" fill="#A52240"/>
<path d="M375.70,269.51V274.38M373.40,269.51H378.00M373.40,274.38H378.00" stroke="#A52240" stroke-width="1" fill="none" opacity="0.85"/>
<path d="M375.70,274.25L378.01,270.07L373.39,270.07Z" fill="#A52240"/>
<path d="M460.99,268.70V275.19M458.69,268.70H463.29M458.69,275.19H463.29" stroke="#A52240" stroke-width="1" fill="none" opacity="0.85"/>
<path d="M460.99,274.25L463.30,270.07L458.68,270.07Z" fill="#A52240"/>
<path d="M297.51,248.02V254.51M295.21,248.02H299.81M295.21,254.51H299.81" stroke="#5E2C6C" stroke-width="1" fill="none" opacity="0.85"/>
<circle cx="297.51" cy="251.27" r="2.20" fill="#5E2C6C"/>
<path d="M304.62,234.64V278.43M302.32,234.64H306.92M302.32,278.43H306.92" stroke="#5E2C6C" stroke-width="1" fill="none" opacity="0.85"/>
<circle cx="304.62" cy="256.54" r="2.20" fill="#5E2C6C"/>
<path d="M311.72,250.05V258.16M309.42,250.05H314.02M309.42,258.16H314.02" stroke="#5E2C6C" stroke-width="1" fill="none" opacity="0.85"/>
<circle cx="311.72" cy="254.10" r="2.20" fill="#5E2C6C"/>
<path d="M318.83,258.56V266.67M316.53,258.56H321.13M316.53,266.67H321.13" stroke="#5E2C6C" stroke-width="1" fill="none" opacity="0.85"/>
<circle cx="318.83" cy="262.62" r="2.20" fill="#5E2C6C"/>
<path d="M325.94,275.19V280.06M323.64,275.19H328.24M323.64,280.06H328.24" stroke="#5E2C6C" stroke-width="1" fill="none" opacity="0.85"/>
<circle cx="325.94" cy="277.62" r="2.20" fill="#5E2C6C"/>
<path d="M333.05,282.08V291.82M330.75,282.08H335.35M330.75,291.82H335.35" stroke="#5E2C6C" stroke-width="1" fill="none" opacity="0.85"/>
<circle cx="333.05" cy="286.95" r="2.20" fill="#5E2C6C"/>
<path d="M354.37,285.33V288.57M352.07,285.33H356.67M352.07,288.57H356.67" stroke="#5E2C6C" stroke-width="1" fill="none" opacity="0.85"/>
<circle cx="354.37" cy="286.95" r="2.20" fill="#5E2C6C"/>
<path d="M375.70,286.54V293.03M373.40,286.54H378.00M373.40,293.03H378.00" stroke="#5E2C6C" stroke-width="1" fill="none" opacity="0.85"/>
<circle cx="375.70" cy="289.79" r="2.20" fill="#5E2C6C"/>
<path d="M460.99,297.09V305.20M458.69,297.09H463.29M458.69,305.20H463.29" stroke="#5E2C6C" stroke-width="1" fill="none" opacity="0.85"/>
<circle cx="460.99" cy="301.14" r="2.20" fill="#5E2C6C"/>
<path d="M56.25,373.34V495.40H237.73" fill="none" stroke="#1a1a1a" stroke-width="1.3"/>
<path d="M52.75,495.40H56.25M52.75,480.58H56.25M52.75,465.76H56.25M52.75,450.94H56.25M52.75,436.12H56.25M52.75,421.30H56.25M52.75,406.48H56.25M52.75,391.66H56.25M52.75,376.84H56.25M56.25,495.40V499.00M85.93,495.40V499.00M115.61,495.40V499.00M145.29,495.40V499.00M174.97,495.40V499.00M204.65,495.40V499.00M234.33,495.40V499.00" stroke="#1a1a1a" stroke-width="1.1" fill="none"/>
<text x="49.25" y="497.70" font-size="8.6" text-anchor="end" textLength="10.4" lengthAdjust="spacingAndGlyphs" fill="#1a1a1a">0.0</text>
<text x="49.25" y="482.88" font-size="8.6" text-anchor="end" textLength="10.4" lengthAdjust="spacingAndGlyphs" fill="#1a1a1a">0.2</text>
<text x="49.25" y="468.06" font-size="8.6" text-anchor="end" textLength="10.4" lengthAdjust="spacingAndGlyphs" fill="#1a1a1a">0.4</text>
<text x="49.25" y="453.24" font-size="8.6" text-anchor="end" textLength="10.4" lengthAdjust="spacingAndGlyphs" fill="#1a1a1a">0.6</text>
<text x="49.25" y="438.42" font-size="8.6" text-anchor="end" textLength="10.4" lengthAdjust="spacingAndGlyphs" fill="#1a1a1a">0.8</text>
<text x="49.25" y="423.60" font-size="8.6" text-anchor="end" textLength="10.4" lengthAdjust="spacingAndGlyphs" fill="#1a1a1a">1.0</text>
<text x="49.25" y="408.78" font-size="8.6" text-anchor="end" textLength="10.4" lengthAdjust="spacingAndGlyphs" fill="#1a1a1a">1.2</text>
<text x="49.25" y="393.96" font-size="8.6" text-anchor="end" textLength="10.4" lengthAdjust="spacingAndGlyphs" fill="#1a1a1a">1.4</text>
<text x="49.25" y="379.14" font-size="8.6" text-anchor="end" textLength="10.4" lengthAdjust="spacingAndGlyphs" fill="#1a1a1a">1.6</text>
<text x="56.25" y="510.00" font-size="8.6" text-anchor="middle" textLength="5.0" lengthAdjust="spacingAndGlyphs" fill="#1a1a1a">0</text>
<text x="85.93" y="510.00" font-size="8.6" text-anchor="middle" textLength="5.0" lengthAdjust="spacingAndGlyphs" fill="#1a1a1a">4</text>
<text x="115.61" y="510.00" font-size="8.6" text-anchor="middle" textLength="5.0" lengthAdjust="spacingAndGlyphs" fill="#1a1a1a">8</text>
<text x="145.29" y="510.00" font-size="8.6" text-anchor="middle" textLength="8.6" lengthAdjust="spacingAndGlyphs" fill="#1a1a1a">12</text>
<text x="174.97" y="510.00" font-size="8.6" text-anchor="middle" textLength="8.6" lengthAdjust="spacingAndGlyphs" fill="#1a1a1a">16</text>
<text x="204.65" y="510.00" font-size="8.6" text-anchor="middle" textLength="8.6" lengthAdjust="spacingAndGlyphs" fill="#1a1a1a">20</text>
<text x="234.33" y="510.00" font-size="8.6" text-anchor="middle" textLength="8.6" lengthAdjust="spacingAndGlyphs" fill="#1a1a1a">24</text>
<text x="127.10" y="365.60" font-size="10.2" textLength="33.7" lengthAdjust="spacingAndGlyphs" fill="#1a1a1a">RNF166</text>
<text transform="translate(31.20,434.70) rotate(-90)" font-size="10" text-anchor="middle" textLength="77.2" lengthAdjust="spacingAndGlyphs" fill="#1a1a1a">Relative to time 0</text>
<text x="120.00" y="524.50" font-size="10" textLength="53.8" lengthAdjust="spacingAndGlyphs" fill="#1a1a1a">Time (hours)</text>
<polyline points="56.2,421.3 58.1,421.0 60.0,420.8 61.8,420.6 63.7,420.4 65.5,420.3 67.4,420.1 69.2,420.0 71.1,419.9 72.9,419.8 74.8,419.7 76.7,419.6 78.5,419.6 80.4,419.5 82.2,419.5 84.1,419.4 85.9,419.4 87.8,419.3 89.6,419.3 91.5,419.3 93.3,419.3 95.2,419.2 97.1,419.2 98.9,419.2 100.8,419.2 102.6,419.2 104.5,419.2 106.3,419.2 108.2,419.1 110.0,419.1 111.9,419.1 113.8,419.1 115.6,419.1 117.5,419.1 119.3,419.1 121.2,419.1 123.0,419.1 124.9,419.1 126.7,419.1 128.6,419.1 130.4,419.1 132.3,419.1 134.2,419.1 136.0,419.1 137.9,419.1 139.7,419.1 141.6,419.1 143.4,419.1 145.3,419.1 147.1,419.1 149.0,419.1 150.9,419.1 152.7,419.1 154.6,419.1 156.4,419.1 158.3,419.1 160.1,419.1 162.0,419.1 163.8,419.1 165.7,419.1 167.6,419.1 169.4,419.1 171.3,419.1 173.1,419.1 175.0,419.1 176.8,419.1 178.7,419.1 180.5,419.1 182.4,419.1 184.2,419.1 186.1,419.1 188.0,419.1 189.8,419.1 191.7,419.1 193.5,419.1 195.4,419.1 197.2,419.1 199.1,419.1 200.9,419.1 202.8,419.1 204.7,419.1 206.5,419.1 208.4,419.1 210.2,419.1 212.1,419.1 213.9,419.1 215.8,419.1 217.6,419.1 219.5,419.1 221.3,419.1 223.2,419.1 225.1,419.1 226.9,419.1 228.8,419.1 230.6,419.1 232.5,419.1 234.3,419.1" fill="none" stroke="#E6A444" stroke-width="1.5"/>
<polyline points="56.2,421.3 58.1,421.5 60.0,421.7 61.8,421.9 63.7,422.2 65.5,422.4 67.4,422.6 69.2,422.8 71.1,423.0 72.9,423.3 74.8,423.5 76.7,423.7 78.5,423.9 80.4,424.1 82.2,424.4 84.1,424.6 85.9,424.8 87.8,425.1 89.6,425.3 91.5,425.5 93.3,425.7 95.2,426.0 97.1,426.2 98.9,426.4 100.8,426.7 102.6,426.9 104.5,427.2 106.3,427.4 108.2,427.6 110.0,427.9 111.9,428.1 113.8,428.3 115.6,428.6 117.5,428.8 119.3,429.1 121.2,429.3 123.0,429.6 124.9,429.8 126.7,430.1 128.6,430.3 130.4,430.6 132.3,430.8 134.2,431.1 136.0,431.3 137.9,431.6 139.7,431.8 141.6,432.1 143.4,432.3 145.3,432.6 147.1,432.9 149.0,433.1 150.9,433.4 152.7,433.6 154.6,433.9 156.4,434.2 158.3,434.4 160.1,434.7 162.0,434.9 163.8,435.2 165.7,435.5 167.6,435.7 169.4,436.0 171.3,436.3 173.1,436.6 175.0,436.8 176.8,437.1 178.7,437.4 180.5,437.7 182.4,437.9 184.2,438.2 186.1,438.5 188.0,438.8 189.8,439.0 191.7,439.3 193.5,439.6 195.4,439.9 197.2,440.2 199.1,440.4 200.9,440.7 202.8,441.0 204.7,441.3 206.5,441.6 208.4,441.9 210.2,442.2 212.1,442.5 213.9,442.8 215.8,443.0 217.6,443.3 219.5,443.6 221.3,443.9 223.2,444.2 225.1,444.5 226.9,444.8 228.8,445.1 230.6,445.4 232.5,445.7 234.3,446.0" fill="none" stroke="#2F6B4C" stroke-width="1.5"/>
<polyline points="56.2,421.3 58.1,422.1 60.0,422.8 61.8,423.5 63.7,424.3 65.5,425.0 67.4,425.7 69.2,426.4 71.1,427.1 72.9,427.7 74.8,428.4 76.7,429.1 78.5,429.7 80.4,430.4 82.2,431.0 84.1,431.7 85.9,432.3 87.8,432.9 89.6,433.5 91.5,434.1 93.3,434.7 95.2,435.3 97.1,435.9 98.9,436.5 100.8,437.1 102.6,437.6 104.5,438.2 106.3,438.7 108.2,439.3 110.0,439.8 111.9,440.3 113.8,440.9 115.6,441.4 117.5,441.9 119.3,442.4 121.2,442.9 123.0,443.4 124.9,443.9 126.7,444.4 128.6,444.8 130.4,445.3 132.3,445.8 134.2,446.2 136.0,446.7 137.9,447.1 139.7,447.6 141.6,448.0 143.4,448.5 145.3,448.9 147.1,449.3 149.0,449.7 150.9,450.1 152.7,450.5 154.6,450.9 156.4,451.3 158.3,451.7 160.1,452.1 162.0,452.5 163.8,452.9 165.7,453.3 167.6,453.6 169.4,454.0 171.3,454.4 173.1,454.7 175.0,455.1 176.8,455.4 178.7,455.8 180.5,456.1 182.4,456.4 184.2,456.8 186.1,457.1 188.0,457.4 189.8,457.7 191.7,458.1 193.5,458.4 195.4,458.7 197.2,459.0 199.1,459.3 200.9,459.6 202.8,459.9 204.7,460.2 206.5,460.5 208.4,460.7 210.2,461.0 212.1,461.3 213.9,461.6 215.8,461.8 217.6,462.1 219.5,462.4 221.3,462.6 223.2,462.9 225.1,463.2 226.9,463.4 228.8,463.7 230.6,463.9 232.5,464.1 234.3,464.4" fill="none" stroke="#6BAE48" stroke-width="1.5"/>
<polyline points="56.2,421.3 58.1,422.5 60.0,423.6 61.8,424.7 63.7,425.8 65.5,426.9 67.4,427.9 69.2,428.9 71.1,429.9 72.9,430.9 74.8,431.9 76.7,432.8 78.5,433.7 80.4,434.6 82.2,435.4 84.1,436.3 85.9,437.1 87.8,437.9 89.6,438.7 91.5,439.5 93.3,440.3 95.2,441.0 97.1,441.7 98.9,442.4 100.8,443.1 102.6,443.8 104.5,444.5 106.3,445.1 108.2,445.7 110.0,446.4 111.9,447.0 113.8,447.5 115.6,448.1 117.5,448.7 119.3,449.2 121.2,449.8 123.0,450.3 124.9,450.8 126.7,451.3 128.6,451.8 130.4,452.3 132.3,452.8 134.2,453.2 136.0,453.7 137.9,454.1 139.7,454.5 141.6,455.0 143.4,455.4 145.3,455.8 147.1,456.2 149.0,456.5 150.9,456.9 152.7,457.3 154.6,457.6 156.4,458.0 158.3,458.3 160.1,458.7 162.0,459.0 163.8,459.3 165.7,459.6 167.6,459.9 169.4,460.2 171.3,460.5 173.1,460.8 175.0,461.1 176.8,461.3 178.7,461.6 180.5,461.9 182.4,462.1 184.2,462.4 186.1,462.6 188.0,462.9 189.8,463.1 191.7,463.3 193.5,463.5 195.4,463.8 197.2,464.0 199.1,464.2 200.9,464.4 202.8,464.6 204.7,464.8 206.5,465.0 208.4,465.1 210.2,465.3 212.1,465.5 213.9,465.7 215.8,465.8 217.6,466.0 219.5,466.2 221.3,466.3 223.2,466.5 225.1,466.6 226.9,466.8 228.8,466.9 230.6,467.1 232.5,467.2 234.3,467.3" fill="none" stroke="#34598F" stroke-width="1.5"/>
<polyline points="56.2,421.3 58.1,423.1 60.0,424.8 61.8,426.4 63.7,427.9 65.5,429.3 67.4,430.7 69.2,432.0 71.1,433.2 72.9,434.3 74.8,435.4 76.7,436.4 78.5,437.4 80.4,438.3 82.2,439.2 84.1,440.0 85.9,440.8 87.8,441.6 89.6,442.3 91.5,442.9 93.3,443.5 95.2,444.1 97.1,444.7 98.9,445.2 100.8,445.7 102.6,446.2 104.5,446.7 106.3,447.1 108.2,447.5 110.0,447.9 111.9,448.2 113.8,448.6 115.6,448.9 117.5,449.2 119.3,449.5 121.2,449.8 123.0,450.0 124.9,450.3 126.7,450.5 128.6,450.7 130.4,451.0 132.3,451.1 134.2,451.3 136.0,451.5 137.9,451.7 139.7,451.8 141.6,452.0 143.4,452.1 145.3,452.3 147.1,452.4 149.0,452.5 150.9,452.6 152.7,452.7 154.6,452.8 156.4,452.9 158.3,453.0 160.1,453.1 162.0,453.2 163.8,453.3 165.7,453.3 167.6,453.4 169.4,453.5 171.3,453.5 173.1,453.6 175.0,453.7 176.8,453.7 178.7,453.8 180.5,453.8 182.4,453.9 184.2,453.9 186.1,453.9 188.0,454.0 189.8,454.0 191.7,454.0 193.5,454.1 195.4,454.1 197.2,454.1 199.1,454.2 200.9,454.2 202.8,454.2 204.7,454.2 206.5,454.3 208.4,454.3 210.2,454.3 212.1,454.3 213.9,454.3 215.8,454.4 217.6,454.4 219.5,454.4 221.3,454.4 223.2,454.4 225.1,454.4 226.9,454.4 228.8,454.4 230.6,454.5 232.5,454.5 234.3,454.5" fill="none" stroke="#A52240" stroke-width="1.5"/>
<polyline points="56.2,421.3 58.1,423.5 60.0,425.6 61.8,427.5 63.7,429.4 65.5,431.1 67.4,432.7 69.2,434.3 71.1,435.7 72.9,437.1 74.8,438.4 76.7,439.6 78.5,440.7 80.4,441.8 82.2,442.8 84.1,443.7 85.9,444.6 87.8,445.5 89.6,446.3 91.5,447.0 93.3,447.7 95.2,448.4 97.1,449.0 98.9,449.6 100.8,450.1 102.6,450.7 104.5,451.1 106.3,451.6 108.2,452.0 110.0,452.5 111.9,452.8 113.8,453.2 115.6,453.6 117.5,453.9 119.3,454.2 121.2,454.5 123.0,454.7 124.9,455.0 126.7,455.2 128.6,455.5 130.4,455.7 132.3,455.9 134.2,456.1 136.0,456.2 137.9,456.4 139.7,456.6 141.6,456.7 143.4,456.8 145.3,457.0 147.1,457.1 149.0,457.2 150.9,457.3 152.7,457.4 154.6,457.5 156.4,457.6 158.3,457.7 160.1,457.8 162.0,457.9 163.8,457.9 165.7,458.0 167.6,458.1 169.4,458.1 171.3,458.2 173.1,458.2 175.0,458.3 176.8,458.3 178.7,458.4 180.5,458.4 182.4,458.5 184.2,458.5 186.1,458.5 188.0,458.6 189.8,458.6 191.7,458.6 193.5,458.6 195.4,458.7 197.2,458.7 199.1,458.7 200.9,458.7 202.8,458.8 204.7,458.8 206.5,458.8 208.4,458.8 210.2,458.8 212.1,458.8 213.9,458.9 215.8,458.9 217.6,458.9 219.5,458.9 221.3,458.9 223.2,458.9 225.1,458.9 226.9,458.9 228.8,458.9 230.6,459.0 232.5,459.0 234.3,459.0" fill="none" stroke="#5E2C6C" stroke-width="1.5"/>
<path d="M71.09,430.19V434.64M68.79,430.19H73.39M68.79,434.64H73.39" stroke="#E39B38" stroke-width="1" fill="none" opacity="0.85"/>
<rect x="68.89" y="430.21" width="4.40" height="4.40" fill="#E39B38"/>
<path d="M78.51,423.52V429.45M76.21,423.52H80.81M76.21,429.45H80.81" stroke="#E39B38" stroke-width="1" fill="none" opacity="0.85"/>
<rect x="76.31" y="424.29" width="4.40" height="4.40" fill="#E39B38"/>
<path d="M85.93,415.37V422.78M83.63,415.37H88.23M83.63,422.78H88.23" stroke="#E39B38" stroke-width="1" fill="none" opacity="0.85"/>
<rect x="83.73" y="416.88" width="4.40" height="4.40" fill="#E39B38"/>
<path d="M93.35,402.03V412.41M91.05,402.03H95.65M91.05,412.41H95.65" stroke="#E39B38" stroke-width="1" fill="none" opacity="0.85"/>
<rect x="91.15" y="405.02" width="4.40" height="4.40" fill="#E39B38"/>
<path d="M100.77,417.59V425.00M98.47,417.59H103.07M98.47,425.00H103.07" stroke="#E39B38" stroke-width="1" fill="none" opacity="0.85"/>
<rect x="98.57" y="419.10" width="4.40" height="4.40" fill="#E39B38"/>
<path d="M123.03,416.85V419.82M120.73,416.85H125.33M120.73,419.82H125.33" stroke="#E39B38" stroke-width="1" fill="none" opacity="0.85"/>
<rect x="120.83" y="416.14" width="4.40" height="4.40" fill="#E39B38"/>
<path d="M145.29,413.15V416.11M142.99,413.15H147.59M142.99,416.11H147.59" stroke="#E39B38" stroke-width="1" fill="none" opacity="0.85"/>
<rect x="143.09" y="412.43" width="4.40" height="4.40" fill="#E39B38"/>
<path d="M234.33,419.82V422.78M232.03,419.82H236.63M232.03,422.78H236.63" stroke="#E39B38" stroke-width="1" fill="none" opacity="0.85"/>
<rect x="232.13" y="419.10" width="4.40" height="4.40" fill="#E39B38"/>
<path d="M63.67,404.26V423.52M61.37,404.26H65.97M61.37,423.52H65.97" stroke="#2F6B4C" stroke-width="1" fill="none" opacity="0.85"/>
<path d="M63.67,416.19L65.98,412.01L61.36,412.01Z" fill="#2F6B4C"/>
<path d="M71.09,390.92V420.56M68.79,390.92H73.39M68.79,420.56H73.39" stroke="#2F6B4C" stroke-width="1" fill="none" opacity="0.85"/>
<path d="M71.09,408.04L73.40,403.86L68.78,403.86Z" fill="#2F6B4C"/>
<path d="M78.51,408.33V427.60M76.21,408.33H80.81M76.21,427.60H80.81" stroke="#2F6B4C" stroke-width="1" fill="none" opacity="0.85"/>
<path d="M78.51,420.26L80.82,416.08L76.20,416.08Z" fill="#2F6B4C"/>
<path d="M85.93,420.56V435.38M83.63,420.56H88.23M83.63,435.38H88.23" stroke="#2F6B4C" stroke-width="1" fill="none" opacity="0.85"/>
<path d="M85.93,430.27L88.24,426.09L83.62,426.09Z" fill="#2F6B4C"/>
<path d="M93.35,420.56V435.38M91.05,420.56H95.65M91.05,435.38H95.65" stroke="#2F6B4C" stroke-width="1" fill="none" opacity="0.85"/>
<path d="M93.35,430.27L95.66,426.09L91.04,426.09Z" fill="#2F6B4C"/>
<path d="M100.77,424.26V439.08M98.47,424.26H103.07M98.47,439.08H103.07" stroke="#2F6B4C" stroke-width="1" fill="none" opacity="0.85"/>
<path d="M100.77,433.97L103.08,429.79L98.46,429.79Z" fill="#2F6B4C"/>
<path d="M123.03,425.75V445.01M120.73,425.75H125.33M120.73,445.01H125.33" stroke="#2F6B4C" stroke-width="1" fill="none" opacity="0.85"/>
<path d="M123.03,437.68L125.34,433.50L120.72,433.50Z" fill="#2F6B4C"/>
<path d="M145.29,436.86V439.82M142.99,436.86H147.59M142.99,439.82H147.59" stroke="#2F6B4C" stroke-width="1" fill="none" opacity="0.85"/>
<path d="M145.29,440.64L147.60,436.46L142.98,436.46Z" fill="#2F6B4C"/>
<path d="M234.33,437.60V445.01M232.03,437.60H236.63M232.03,445.01H236.63" stroke="#2F6B4C" stroke-width="1" fill="none" opacity="0.85"/>
<path d="M234.33,443.61L236.64,439.43L232.02,439.43Z" fill="#2F6B4C"/>
<path d="M63.67,428.41V432.86M61.37,428.41H65.97M61.37,432.86H65.97" stroke="#A52240" stroke-width="1" fill="none" opacity="0.85"/>
<path d="M63.67,428.34L65.98,432.52L61.36,432.52Z" fill="#A52240"/>
<path d="M71.09,439.08V443.53M68.79,439.08H73.39M68.79,443.53H73.39" stroke="#A52240" stroke-width="1" fill="none" opacity="0.85"/>
<path d="M71.09,439.01L73.40,443.19L68.78,443.19Z" fill="#A52240"/>
<path d="M78.51,442.79V454.64M76.21,442.79H80.81M76.21,454.64H80.81" stroke="#A52240" stroke-width="1" fill="none" opacity="0.85"/>
<path d="M78.51,446.42L80.82,450.60L76.20,450.60Z" fill="#A52240"/>
<path d="M85.93,432.41V436.86M83.63,432.41H88.23M83.63,436.86H88.23" stroke="#A52240" stroke-width="1" fill="none" opacity="0.85"/>
<path d="M85.93,432.34L88.24,436.52L83.62,436.52Z" fill="#A52240"/>
<path d="M93.35,442.05V446.49M91.05,442.05H95.65M91.05,446.49H95.65" stroke="#A52240" stroke-width="1" fill="none" opacity="0.85"/>
<path d="M93.35,441.97L95.66,446.15L91.04,446.15Z" fill="#A52240"/>
<path d="M100.77,439.08V443.53M98.47,439.08H103.07M98.47,443.53H103.07" stroke="#A52240" stroke-width="1" fill="none" opacity="0.85"/>
<path d="M100.77,439.01L103.08,443.19L98.46,443.19Z" fill="#A52240"/>
<path d="M123.03,448.72V453.16M120.73,448.72H125.33M120.73,453.16H125.33" stroke="#A52240" stroke-width="1" fill="none" opacity="0.85"/>
<path d="M123.03,448.64L125.34,452.82L120.72,452.82Z" fill="#A52240"/>
<path d="M145.29,456.13V460.57M142.99,456.13H147.59M142.99,460.57H147.59" stroke="#A52240" stroke-width="1" fill="none" opacity="0.85"/>
<path d="M145.29,456.05L147.60,460.23L142.98,460.23Z" fill="#A52240"/>
<path d="M234.33,454.64V459.09M232.03,454.64H236.63M232.03,459.09H236.63" stroke="#A52240" stroke-width="1" fill="none" opacity="0.85"/>
<path d="M234.33,454.57L236.64,458.75L232.02,458.75Z" fill="#A52240"/>
<path d="M63.67,431.67V436.12M61.37,431.67H65.97M61.37,436.12H65.97" stroke="#5E2C6C" stroke-width="1" fill="none" opacity="0.85"/>
<circle cx="63.67" cy="433.90" r="2.20" fill="#5E2C6C"/>
<path d="M78.51,437.60V442.05M76.21,437.60H80.81M76.21,442.05H80.81" stroke="#5E2C6C" stroke-width="1" fill="none" opacity="0.85"/>
<circle cx="78.51" cy="439.82" r="2.20" fill="#5E2C6C"/>
<path d="M85.93,439.08V443.53M83.63,439.08H88.23M83.63,443.53H88.23" stroke="#5E2C6C" stroke-width="1" fill="none" opacity="0.85"/>
<circle cx="85.93" cy="441.31" r="2.20" fill="#5E2C6C"/>
<path d="M93.35,440.57V447.98M91.05,440.57H95.65M91.05,447.98H95.65" stroke="#5E2C6C" stroke-width="1" fill="none" opacity="0.85"/>
<circle cx="93.35" cy="444.27" r="2.20" fill="#5E2C6C"/>
<path d="M100.77,456.50V463.91M98.47,456.50H103.07M98.47,463.91H103.07" stroke="#5E2C6C" stroke-width="1" fill="none" opacity="0.85"/>
<circle cx="100.77" cy="460.20" r="2.20" fill="#5E2C6C"/>
<path d="M123.03,452.42V459.83M120.73,452.42H125.33M120.73,459.83H125.33" stroke="#5E2C6C" stroke-width="1" fill="none" opacity="0.85"/>
<circle cx="123.03" cy="456.13" r="2.20" fill="#5E2C6C"/>
<path d="M145.29,459.46V462.43M142.99,459.46H147.59M142.99,462.43H147.59" stroke="#5E2C6C" stroke-width="1" fill="none" opacity="0.85"/>
<circle cx="145.29" cy="460.94" r="2.20" fill="#5E2C6C"/>
<path d="M234.33,448.72V453.16M232.03,448.72H236.63M232.03,453.16H236.63" stroke="#5E2C6C" stroke-width="1" fill="none" opacity="0.85"/>
<circle cx="234.33" cy="450.94" r="2.20" fill="#5E2C6C"/>
<path d="M63.67,426.49V430.93M61.37,426.49H65.97M61.37,430.93H65.97" stroke="#34598F" stroke-width="1" fill="none" opacity="0.85"/>
<path d="M63.67,426.18L66.20,428.71L63.67,431.24L61.14,428.71Z" fill="#34598F"/>
<path d="M71.09,433.90V438.34M68.79,433.90H73.39M68.79,438.34H73.39" stroke="#34598F" stroke-width="1" fill="none" opacity="0.85"/>
<path d="M71.09,433.59L73.62,436.12L71.09,438.65L68.56,436.12Z" fill="#34598F"/>
<path d="M78.51,435.38V439.82M76.21,435.38H80.81M76.21,439.82H80.81" stroke="#34598F" stroke-width="1" fill="none" opacity="0.85"/>
<path d="M78.51,435.07L81.04,437.60L78.51,440.13L75.98,437.60Z" fill="#34598F"/>
<path d="M85.93,437.60V445.01M83.63,437.60H88.23M83.63,445.01H88.23" stroke="#34598F" stroke-width="1" fill="none" opacity="0.85"/>
<path d="M85.93,438.78L88.46,441.31L85.93,443.84L83.40,441.31Z" fill="#34598F"/>
<path d="M93.35,421.30V439.08M91.05,421.30H95.65M91.05,439.08H95.65" stroke="#34598F" stroke-width="1" fill="none" opacity="0.85"/>
<path d="M93.35,427.66L95.88,430.19L93.35,432.72L90.82,430.19Z" fill="#34598F"/>
<path d="M100.77,431.67V449.46M98.47,431.67H103.07M98.47,449.46H103.07" stroke="#34598F" stroke-width="1" fill="none" opacity="0.85"/>
<path d="M100.77,438.04L103.30,440.57L100.77,443.10L98.24,440.57Z" fill="#34598F"/>
<path d="M123.03,447.23V462.06M120.73,447.23H125.33M120.73,462.06H125.33" stroke="#34598F" stroke-width="1" fill="none" opacity="0.85"/>
<path d="M123.03,452.12L125.56,454.64L123.03,457.17L120.50,454.64Z" fill="#34598F"/>
<path d="M145.29,456.13V460.57M142.99,456.13H147.59M142.99,460.57H147.59" stroke="#34598F" stroke-width="1" fill="none" opacity="0.85"/>
<path d="M145.29,455.82L147.82,458.35L145.29,460.88L142.76,458.35Z" fill="#34598F"/>
<path d="M234.33,465.02V469.46M232.03,465.02H236.63M232.03,469.46H236.63" stroke="#34598F" stroke-width="1" fill="none" opacity="0.85"/>
<path d="M234.33,464.71L236.86,467.24L234.33,469.77L231.80,467.24Z" fill="#34598F"/>
<path d="M63.67,422.78V427.23M61.37,422.78H65.97M61.37,427.23H65.97" stroke="#6BAE48" stroke-width="1" fill="none" opacity="0.85"/>
<path d="M63.67,422.48L66.20,425.00L63.67,427.53L61.14,425.00Z" fill="#6BAE48"/>
<path d="M71.09,425.75V430.19M68.79,425.75H73.39M68.79,430.19H73.39" stroke="#6BAE48" stroke-width="1" fill="none" opacity="0.85"/>
<path d="M71.09,425.44L73.62,427.97L71.09,430.50L68.56,427.97Z" fill="#6BAE48"/>
<path d="M78.51,430.19V434.64M76.21,430.19H80.81M76.21,434.64H80.81" stroke="#6BAE48" stroke-width="1" fill="none" opacity="0.85"/>
<path d="M78.51,429.88L81.04,432.41L78.51,434.94L75.98,432.41Z" fill="#6BAE48"/>
<path d="M85.93,425.75V430.19M83.63,425.75H88.23M83.63,430.19H88.23" stroke="#6BAE48" stroke-width="1" fill="none" opacity="0.85"/>
<path d="M85.93,425.44L88.46,427.97L85.93,430.50L83.40,427.97Z" fill="#6BAE48"/>
<path d="M93.35,424.26V428.71M91.05,424.26H95.65M91.05,428.71H95.65" stroke="#6BAE48" stroke-width="1" fill="none" opacity="0.85"/>
<path d="M93.35,423.96L95.88,426.49L93.35,429.02L90.82,426.49Z" fill="#6BAE48"/>
<path d="M100.77,433.90V438.34M98.47,433.90H103.07M98.47,438.34H103.07" stroke="#6BAE48" stroke-width="1" fill="none" opacity="0.85"/>
<path d="M100.77,433.59L103.30,436.12L100.77,438.65L98.24,436.12Z" fill="#6BAE48"/>
<path d="M123.03,442.05V446.49M120.73,442.05H125.33M120.73,446.49H125.33" stroke="#6BAE48" stroke-width="1" fill="none" opacity="0.85"/>
<path d="M123.03,441.74L125.56,444.27L123.03,446.80L120.50,444.27Z" fill="#6BAE48"/>
<path d="M145.29,447.23V450.20M142.99,447.23H147.59M142.99,450.20H147.59" stroke="#6BAE48" stroke-width="1" fill="none" opacity="0.85"/>
<path d="M145.29,446.19L147.82,448.72L145.29,451.25L142.76,448.72Z" fill="#6BAE48"/>
<path d="M234.33,460.57V463.54M232.03,460.57H236.63M232.03,463.54H236.63" stroke="#6BAE48" stroke-width="1" fill="none" opacity="0.85"/>
<path d="M234.33,459.52L236.86,462.05L234.33,464.58L231.80,462.05Z" fill="#6BAE48"/>
<path d="M290.40,373.34V495.40H471.88" fill="none" stroke="#1a1a1a" stroke-width="1.3"/>
<path d="M286.90,495.40H290.40M286.90,480.58H290.40M286.90,465.76H290.40M286.90,450.94H290.40M286.90,436.12H290.40M286.90,421.30H290.40M286.90,406.48H290.40M286.90,391.66H290.40M286.90,376.84H290.40M290.40,495.40V499.00M320.08,495.40V499.00M349.76,495.40V499.00M379.44,495.40V499.00M409.12,495.40V499.00M438.80,495.40V499.00M468.48,495.40V499.00" stroke="#1a1a1a" stroke-width="1.1" fill="none"/>
<text x="283.40" y="497.70" font-size="8.6" text-anchor="end" textLength="10.4" lengthAdjust="spacingAndGlyphs" fill="#1a1a1a">0.0</text>
<text x="283.40" y="482.88" font-size="8.6" text-anchor="end" textLength="10.4" lengthAdjust="spacingAndGlyphs" fill="#1a1a1a">0.2</text>
<text x="283.40" y="468.06" font-size="8.6" text-anchor="end" textLength="10.4" lengthAdjust="spacingAndGlyphs" fill="#1a1a1a">0.4</text>
<text x="283.40" y="453.24" font-size="8.6" text-anchor="end" textLength="10.4" lengthAdjust="spacingAndGlyphs" fill="#1a1a1a">0.6</text>
<text x="283.40" y="438.42" font-size="8.6" text-anchor="end" textLength="10.4" lengthAdjust="spacingAndGlyphs" fill="#1a1a1a">0.8</text>
<text x="283.40" y="423.60" font-size="8.6" text-anchor="end" textLength="10.4" lengthAdjust="spacingAndGlyphs" fill="#1a1a1a">1.0</text>
<text x="283.40" y="408.78" font-size="8.6" text-anchor="end" textLength="10.4" lengthAdjust="spacingAndGlyphs" fill="#1a1a1a">1.2</text>
<text x="283.40" y="393.96" font-size="8.6" text-anchor="end" textLength="10.4" lengthAdjust="spacingAndGlyphs" fill="#1a1a1a">1.4</text>
<text x="283.40" y="379.14" font-size="8.6" text-anchor="end" textLength="10.4" lengthAdjust="spacingAndGlyphs" fill="#1a1a1a">1.6</text>
<text x="290.40" y="510.00" font-size="8.6" text-anchor="middle" textLength="5.0" lengthAdjust="spacingAndGlyphs" fill="#1a1a1a">0</text>
<text x="320.08" y="510.00" font-size="8.6" text-anchor="middle" textLength="5.0" lengthAdjust="spacingAndGlyphs" fill="#1a1a1a">4</text>
<text x="349.76" y="510.00" font-size="8.6" text-anchor="middle" textLength="5.0" lengthAdjust="spacingAndGlyphs" fill="#1a1a1a">8</text>
<text x="379.44" y="510.00" font-size="8.6" text-anchor="middle" textLength="8.6" lengthAdjust="spacingAndGlyphs" fill="#1a1a1a">12</text>
<text x="409.12" y="510.00" font-size="8.6" text-anchor="middle" textLength="8.6" lengthAdjust="spacingAndGlyphs" fill="#1a1a1a">16</text>
<text x="438.80" y="510.00" font-size="8.6" text-anchor="middle" textLength="8.6" lengthAdjust="spacingAndGlyphs" fill="#1a1a1a">20</text>
<text x="468.48" y="510.00" font-size="8.6" text-anchor="middle" textLength="8.6" lengthAdjust="spacingAndGlyphs" fill="#1a1a1a">24</text>
<text x="359.00" y="365.90" font-size="10.2" textLength="28.5" lengthAdjust="spacingAndGlyphs" fill="#1a1a1a">GSPT2</text>
<text x="353.80" y="524.60" font-size="10" textLength="53.9" lengthAdjust="spacingAndGlyphs" fill="#1a1a1a">Time (hours)</text>
<polyline points="290.4,421.3 292.3,417.6 294.1,414.7 296.0,412.5 297.8,410.8 299.7,409.4 301.5,408.3 303.4,407.5 305.2,406.9 307.1,406.4 308.9,406.0 310.8,405.7 312.7,405.5 314.5,405.3 316.4,405.1 318.2,405.0 320.1,404.9 321.9,404.9 323.8,404.8 325.6,404.8 327.5,404.7 329.4,404.7 331.2,404.7 333.1,404.7 334.9,404.7 336.8,404.7 338.6,404.7 340.5,404.6 342.3,404.6 344.2,404.6 346.0,404.6 347.9,404.6 349.8,404.6 351.6,404.6 353.5,404.6 355.3,404.6 357.2,404.6 359.0,404.6 360.9,404.6 362.7,404.6 364.6,404.6 366.5,404.6 368.3,404.6 370.2,404.6 372.0,404.6 373.9,404.6 375.7,404.6 377.6,404.6 379.4,404.6 381.3,404.6 383.1,404.6 385.0,404.6 386.9,404.6 388.7,404.6 390.6,404.6 392.4,404.6 394.3,404.6 396.1,404.6 398.0,404.6 399.8,404.6 401.7,404.6 403.6,404.6 405.4,404.6 407.3,404.6 409.1,404.6 411.0,404.6 412.8,404.6 414.7,404.6 416.5,404.6 418.4,404.6 420.2,404.6 422.1,404.6 424.0,404.6 425.8,404.6 427.7,404.6 429.5,404.6 431.4,404.6 433.2,404.6 435.1,404.6 436.9,404.6 438.8,404.6 440.7,404.6 442.5,404.6 444.4,404.6 446.2,404.6 448.1,404.6 449.9,404.6 451.8,404.6 453.6,404.6 455.5,404.6 457.3,404.6 459.2,404.6 461.1,404.6 462.9,404.6 464.8,404.6 466.6,404.6 468.5,404.6" fill="none" stroke="#E6A444" stroke-width="1.5"/>
<polyline points="290.4,421.3 292.3,432.5 294.1,441.9 296.0,449.7 297.8,456.4 299.7,461.9 301.5,466.6 303.4,470.5 305.2,473.8 307.1,476.5 308.9,478.8 310.8,480.8 312.7,482.4 314.5,483.8 316.4,484.9 318.2,485.9 320.1,486.7 321.9,487.4 323.8,488.0 325.6,488.4 327.5,488.9 329.4,489.2 331.2,489.5 333.1,489.7 334.9,489.9 336.8,490.1 338.6,490.2 340.5,490.3 342.3,490.4 344.2,490.5 346.0,490.6 347.9,490.6 349.8,490.7 351.6,490.7 353.5,490.8 355.3,490.8 357.2,490.8 359.0,490.8 360.9,490.9 362.7,490.9 364.6,490.9 366.5,490.9 368.3,490.9 370.2,490.9 372.0,490.9 373.9,490.9 375.7,490.9 377.6,490.9 379.4,490.9 381.3,490.9 383.1,490.9 385.0,490.9 386.9,490.9 388.7,490.9 390.6,490.9 392.4,490.9 394.3,491.0 396.1,491.0 398.0,491.0 399.8,491.0 401.7,491.0 403.6,491.0 405.4,491.0 407.3,491.0 409.1,491.0 411.0,491.0 412.8,491.0 414.7,491.0 416.5,491.0 418.4,491.0 420.2,491.0 422.1,491.0 424.0,491.0 425.8,491.0 427.7,491.0 429.5,491.0 431.4,491.0 433.2,491.0 435.1,491.0 436.9,491.0 438.8,491.0 440.7,491.0 442.5,491.0 444.4,491.0 446.2,491.0 448.1,491.0 449.9,491.0 451.8,491.0 453.6,491.0 455.5,491.0 457.3,491.0 459.2,491.0 461.1,491.0 462.9,491.0 464.8,491.0 466.6,491.0 468.5,491.0" fill="none" stroke="#5E2C6C" stroke-width="1.5"/>
<path d="M297.82,407.96V415.37M295.52,407.96H300.12M295.52,415.37H300.12" stroke="#E39B38" stroke-width="1" fill="none" opacity="0.85"/>
<rect x="295.62" y="409.47" width="4.40" height="4.40" fill="#E39B38"/>
<path d="M305.24,387.95V411.67M302.94,387.95H307.54M302.94,411.67H307.54" stroke="#E39B38" stroke-width="1" fill="none" opacity="0.85"/>
<rect x="303.04" y="397.61" width="4.40" height="4.40" fill="#E39B38"/>
<path d="M312.66,397.59V413.89M310.36,397.59H314.96M310.36,413.89H314.96" stroke="#E39B38" stroke-width="1" fill="none" opacity="0.85"/>
<rect x="310.46" y="403.54" width="4.40" height="4.40" fill="#E39B38"/>
<path d="M320.08,395.66V403.07M317.78,395.66H322.38M317.78,403.07H322.38" stroke="#E39B38" stroke-width="1" fill="none" opacity="0.85"/>
<rect x="317.88" y="397.17" width="4.40" height="4.40" fill="#E39B38"/>
<path d="M327.50,411.37V427.67M325.20,411.37H329.80M325.20,427.67H329.80" stroke="#E39B38" stroke-width="1" fill="none" opacity="0.85"/>
<rect x="325.30" y="417.32" width="4.40" height="4.40" fill="#E39B38"/>
<path d="M334.92,399.07V413.89M332.62,399.07H337.22M332.62,413.89H337.22" stroke="#E39B38" stroke-width="1" fill="none" opacity="0.85"/>
<rect x="332.72" y="404.28" width="4.40" height="4.40" fill="#E39B38"/>
<path d="M357.18,391.88V402.26M354.88,391.88H359.48M354.88,402.26H359.48" stroke="#E39B38" stroke-width="1" fill="none" opacity="0.85"/>
<rect x="354.98" y="394.87" width="4.40" height="4.40" fill="#E39B38"/>
<path d="M379.44,384.25V416.85M377.14,384.25H381.74M377.14,416.85H381.74" stroke="#E39B38" stroke-width="1" fill="none" opacity="0.85"/>
<rect x="377.24" y="398.35" width="4.40" height="4.40" fill="#E39B38"/>
<path d="M468.48,394.62V419.82M466.18,394.62H470.78M466.18,419.82H470.78" stroke="#E39B38" stroke-width="1" fill="none" opacity="0.85"/>
<rect x="466.28" y="405.02" width="4.40" height="4.40" fill="#E39B38"/>
<path d="M297.82,443.53V465.76M295.52,443.53H300.12M295.52,465.76H300.12" stroke="#5E2C6C" stroke-width="1" fill="none" opacity="0.85"/>
<circle cx="297.82" cy="454.64" r="2.20" fill="#5E2C6C"/>
<path d="M305.24,467.24V483.54M302.94,467.24H307.54M302.94,483.54H307.54" stroke="#5E2C6C" stroke-width="1" fill="none" opacity="0.85"/>
<circle cx="305.24" cy="475.39" r="2.20" fill="#5E2C6C"/>
<path d="M312.66,482.43V489.84M310.36,482.43H314.96M310.36,489.84H314.96" stroke="#5E2C6C" stroke-width="1" fill="none" opacity="0.85"/>
<circle cx="312.66" cy="486.14" r="2.20" fill="#5E2C6C"/>
<path d="M320.08,486.88V491.32M317.78,486.88H322.38M317.78,491.32H322.38" stroke="#5E2C6C" stroke-width="1" fill="none" opacity="0.85"/>
<circle cx="320.08" cy="489.10" r="2.20" fill="#5E2C6C"/>
<path d="M327.50,487.99V492.44M325.20,487.99H329.80M325.20,492.44H329.80" stroke="#5E2C6C" stroke-width="1" fill="none" opacity="0.85"/>
<circle cx="327.50" cy="490.21" r="2.20" fill="#5E2C6C"/>
<path d="M334.92,487.99V492.44M332.62,487.99H337.22M332.62,492.44H337.22" stroke="#5E2C6C" stroke-width="1" fill="none" opacity="0.85"/>
<circle cx="334.92" cy="490.21" r="2.20" fill="#5E2C6C"/>
<path d="M357.18,488.36V489.84M354.88,488.36H359.48M354.88,489.84H359.48" stroke="#5E2C6C" stroke-width="1" fill="none" opacity="0.85"/>
<circle cx="357.18" cy="489.10" r="2.20" fill="#5E2C6C"/>
<path d="M379.44,484.28V488.73M377.14,484.28H381.74M377.14,488.73H381.74" stroke="#5E2C6C" stroke-width="1" fill="none" opacity="0.85"/>
<circle cx="379.44" cy="486.51" r="2.20" fill="#5E2C6C"/>
<path d="M468.48,491.32V492.81M466.18,491.32H470.78M466.18,492.81H470.78" stroke="#5E2C6C" stroke-width="1" fill="none" opacity="0.85"/>
<circle cx="468.48" cy="492.07" r="2.20" fill="#5E2C6C"/>
<path d="M53,535H66.3" stroke="#E39B38" stroke-width="1.3"/>
<rect x="59.70" y="532.70" width="4.60" height="4.60" fill="#E39B38"/>
<text x="70.00" y="537.60" font-size="8.6" textLength="21.75" lengthAdjust="spacingAndGlyphs" fill="#1a1a1a">DMSO</text>
<path d="M105.5,535H117.5" stroke="#2F6B4C" stroke-width="1.3"/>
<circle cx="111.50" cy="535.00" r="2.30" fill="#2F6B4C"/>
<text x="120.50" y="537.60" font-size="8.6" textLength="44" lengthAdjust="spacingAndGlyphs" fill="#1a1a1a">Thalidomide</text>
<path d="M177.5,535H190.5" stroke="#A52240" stroke-width="1.3"/>
<path d="M184.00,537.40L186.41,533.03L181.59,533.03Z" fill="#A52240"/>
<text x="193.80" y="537.60" font-size="8.6" textLength="47.5" lengthAdjust="spacingAndGlyphs" fill="#1a1a1a">Lenalidomide</text>
<path d="M254.5,535H267" stroke="#34598F" stroke-width="1.3"/>
<path d="M260.80,532.60L263.22,536.97L258.38,536.97Z" fill="#34598F"/>
<text x="270.50" y="537.60" font-size="8.6" textLength="50.75" lengthAdjust="spacingAndGlyphs" fill="#1a1a1a">Pomalidomide</text>
<path d="M334.5,535H347.5" stroke="#6BAE48" stroke-width="1.3"/>
<path d="M341.00,532.36L343.64,535.00L341.00,537.64L338.36,535.00Z" fill="#6BAE48"/>
<text x="351.20" y="537.60" font-size="8.6" textLength="39.5" lengthAdjust="spacingAndGlyphs" fill="#1a1a1a">Avadomide</text>
<path d="M403.8,535H416.3" stroke="#5E2C6C" stroke-width="1.3"/>
<circle cx="410.00" cy="535.00" r="2.30" fill="#5E2C6C"/>
<text x="419.50" y="537.60" font-size="8.6" textLength="20.5" lengthAdjust="spacingAndGlyphs" fill="#1a1a1a">cc885</text>
<path d="M56.25,590.12V706.90H229.91" fill="none" stroke="#1a1a1a" stroke-width="1.3"/>
<path d="M52.75,706.90H56.25M52.75,688.02H56.25M52.75,669.14H56.25M52.75,650.26H56.25M52.75,631.38H56.25M52.75,612.50H56.25M52.75,593.62H56.25M56.25,706.90V710.50M84.63,706.90V710.50M113.00,706.90V710.50M141.38,706.90V710.50M169.75,706.90V710.50M198.13,706.90V710.50M226.51,706.90V710.50" stroke="#1a1a1a" stroke-width="1.1" fill="none"/>
<text x="49.25" y="709.20" font-size="8.6" text-anchor="end" textLength="10.4" lengthAdjust="spacingAndGlyphs" fill="#1a1a1a">0.0</text>
<text x="49.25" y="690.32" font-size="8.6" text-anchor="end" textLength="10.4" lengthAdjust="spacingAndGlyphs" fill="#1a1a1a">0.2</text>
<text x="49.25" y="671.44" font-size="8.6" text-anchor="end" textLength="10.4" lengthAdjust="spacingAndGlyphs" fill="#1a1a1a">0.4</text>
<text x="49.25" y="652.56" font-size="8.6" text-anchor="end" textLength="10.4" lengthAdjust="spacingAndGlyphs" fill="#1a1a1a">0.6</text>
<text x="49.25" y="633.68" font-size="8.6" text-anchor="end" textLength="10.4" lengthAdjust="spacingAndGlyphs" fill="#1a1a1a">0.8</text>
<text x="49.25" y="614.80" font-size="8.6" text-anchor="end" textLength="10.4" lengthAdjust="spacingAndGlyphs" fill="#1a1a1a">1.0</text>
<text x="49.25" y="595.92" font-size="8.6" text-anchor="end" textLength="10.4" lengthAdjust="spacingAndGlyphs" fill="#1a1a1a">1.2</text>
<text x="56.25" y="721.50" font-size="8.6" text-anchor="middle" textLength="5.0" lengthAdjust="spacingAndGlyphs" fill="#1a1a1a">0</text>
<text x="84.63" y="721.50" font-size="8.6" text-anchor="middle" textLength="5.0" lengthAdjust="spacingAndGlyphs" fill="#1a1a1a">4</text>
<text x="113.00" y="721.50" font-size="8.6" text-anchor="middle" textLength="5.0" lengthAdjust="spacingAndGlyphs" fill="#1a1a1a">8</text>
<text x="141.38" y="721.50" font-size="8.6" text-anchor="middle" textLength="8.6" lengthAdjust="spacingAndGlyphs" fill="#1a1a1a">12</text>
<text x="169.75" y="721.50" font-size="8.6" text-anchor="middle" textLength="8.6" lengthAdjust="spacingAndGlyphs" fill="#1a1a1a">16</text>
<text x="198.13" y="721.50" font-size="8.6" text-anchor="middle" textLength="8.6" lengthAdjust="spacingAndGlyphs" fill="#1a1a1a">20</text>
<text x="226.51" y="721.50" font-size="8.6" text-anchor="middle" textLength="8.6" lengthAdjust="spacingAndGlyphs" fill="#1a1a1a">24</text>
<text x="132.00" y="582.80" font-size="10.3" textLength="16.0" lengthAdjust="spacingAndGlyphs" fill="#1a1a1a">CK1</text>
<text x="148.60" y="582.80" font-size="11.6" font-family="Liberation Serif" font-style="italic" textLength="7.2" lengthAdjust="spacingAndGlyphs" fill="#1a1a1a">α</text>
<text transform="translate(30.80,648.90) rotate(-90)" font-size="10" text-anchor="middle" textLength="77.2" lengthAdjust="spacingAndGlyphs" fill="#1a1a1a">Relative to time 0</text>
<text x="115.40" y="735.80" font-size="10" textLength="54.8" lengthAdjust="spacingAndGlyphs" fill="#1a1a1a">Time (hours)</text>
<text x="181.90" y="640.40" font-size="8.2" textLength="33.3" lengthAdjust="spacingAndGlyphs" fill="#1a1a1a">p&lt;0.0001</text>
<polyline points="56.2,612.5 58.0,614.6 59.8,616.5 61.6,618.3 63.3,620.0 65.1,621.6 66.9,623.1 68.7,624.5 70.4,625.9 72.2,627.1 74.0,628.3 75.8,629.4 77.5,630.4 79.3,631.4 81.1,632.3 82.9,633.2 84.6,634.0 86.4,634.7 88.2,635.5 89.9,636.1 91.7,636.7 93.5,637.3 95.3,637.9 97.0,638.4 98.8,638.9 100.6,639.4 102.4,639.8 104.1,640.2 105.9,640.6 107.7,640.9 109.5,641.3 111.2,641.6 113.0,641.9 114.8,642.2 116.5,642.4 118.3,642.7 120.1,642.9 121.9,643.1 123.6,643.3 125.4,643.5 127.2,643.7 129.0,643.9 130.7,644.0 132.5,644.2 134.3,644.3 136.1,644.4 137.8,644.6 139.6,644.7 141.4,644.8 143.2,644.9 144.9,645.0 146.7,645.1 148.5,645.2 150.2,645.2 152.0,645.3 153.8,645.4 155.6,645.5 157.3,645.5 159.1,645.6 160.9,645.6 162.7,645.7 164.4,645.7 166.2,645.8 168.0,645.8 169.8,645.9 171.5,645.9 173.3,645.9 175.1,646.0 176.8,646.0 178.6,646.0 180.4,646.1 182.2,646.1 183.9,646.1 185.7,646.1 187.5,646.2 189.3,646.2 191.0,646.2 192.8,646.2 194.6,646.2 196.4,646.2 198.1,646.3 199.9,646.3 201.7,646.3 203.5,646.3 205.2,646.3 207.0,646.3 208.8,646.3 210.5,646.3 212.3,646.3 214.1,646.4 215.9,646.4 217.6,646.4 219.4,646.4 221.2,646.4 223.0,646.4 224.7,646.4 226.5,646.4" fill="none" stroke="#A52240" stroke-width="1.5"/>
<polyline points="56.2,612.5 58.0,614.3 59.8,616.0 61.6,617.7 63.3,619.3 65.1,620.8 66.9,622.4 68.7,623.9 70.4,625.3 72.2,626.7 74.0,628.1 75.8,629.4 77.5,630.7 79.3,631.9 81.1,633.1 82.9,634.3 84.6,635.4 86.4,636.5 88.2,637.6 89.9,638.7 91.7,639.7 93.5,640.7 95.3,641.6 97.0,642.5 98.8,643.5 100.6,644.3 102.4,645.2 104.1,646.0 105.9,646.8 107.7,647.6 109.5,648.3 111.2,649.1 113.0,649.8 114.8,650.5 116.5,651.2 118.3,651.8 120.1,652.5 121.9,653.1 123.6,653.7 125.4,654.3 127.2,654.8 129.0,655.4 130.7,655.9 132.5,656.4 134.3,656.9 136.1,657.4 137.8,657.9 139.6,658.3 141.4,658.8 143.2,659.2 144.9,659.6 146.7,660.1 148.5,660.5 150.2,660.8 152.0,661.2 153.8,661.6 155.6,661.9 157.3,662.3 159.1,662.6 160.9,662.9 162.7,663.3 164.4,663.6 166.2,663.9 168.0,664.1 169.8,664.4 171.5,664.7 173.3,665.0 175.1,665.2 176.8,665.5 178.6,665.7 180.4,665.9 182.2,666.2 183.9,666.4 185.7,666.6 187.5,666.8 189.3,667.0 191.0,667.2 192.8,667.4 194.6,667.6 196.4,667.8 198.1,667.9 199.9,668.1 201.7,668.3 203.5,668.4 205.2,668.6 207.0,668.8 208.8,668.9 210.5,669.0 212.3,669.2 214.1,669.3 215.9,669.4 217.6,669.6 219.4,669.7 221.2,669.8 223.0,669.9 224.7,670.0 226.5,670.2" fill="none" stroke="#34598F" stroke-width="1.5"/>
<path d="M63.34,610.33V619.77M61.04,610.33H65.64M61.04,619.77H65.64" stroke="#A52240" stroke-width="1" fill="none" opacity="0.85"/>
<rect x="61.14" y="612.85" width="4.40" height="4.40" fill="#A52240"/>
<path d="M70.44,627.60V631.38M68.14,627.60H72.74M68.14,631.38H72.74" stroke="#A52240" stroke-width="1" fill="none" opacity="0.85"/>
<rect x="68.24" y="627.29" width="4.40" height="4.40" fill="#A52240"/>
<path d="M77.53,629.49V637.04M75.23,629.49H79.83M75.23,637.04H79.83" stroke="#A52240" stroke-width="1" fill="none" opacity="0.85"/>
<rect x="75.33" y="631.07" width="4.40" height="4.40" fill="#A52240"/>
<path d="M84.63,626.09V635.53M82.33,626.09H86.93M82.33,635.53H86.93" stroke="#A52240" stroke-width="1" fill="none" opacity="0.85"/>
<rect x="82.43" y="628.61" width="4.40" height="4.40" fill="#A52240"/>
<path d="M91.72,624.21V637.42M89.42,624.21H94.02M89.42,637.42H94.02" stroke="#A52240" stroke-width="1" fill="none" opacity="0.85"/>
<rect x="89.52" y="628.61" width="4.40" height="4.40" fill="#A52240"/>
<path d="M98.81,641.01V644.78M96.51,641.01H101.11M96.51,644.78H101.11" stroke="#A52240" stroke-width="1" fill="none" opacity="0.85"/>
<rect x="96.61" y="640.70" width="4.40" height="4.40" fill="#A52240"/>
<path d="M120.10,639.88V641.76M117.80,639.88H122.40M117.80,641.76H122.40" stroke="#A52240" stroke-width="1" fill="none" opacity="0.85"/>
<rect x="117.90" y="638.62" width="4.40" height="4.40" fill="#A52240"/>
<path d="M141.38,645.54V649.32M139.08,645.54H143.68M139.08,649.32H143.68" stroke="#A52240" stroke-width="1" fill="none" opacity="0.85"/>
<rect x="139.18" y="645.23" width="4.40" height="4.40" fill="#A52240"/>
<path d="M226.51,641.29V650.73M224.21,641.29H228.81M224.21,650.73H228.81" stroke="#A52240" stroke-width="1" fill="none" opacity="0.85"/>
<rect x="224.31" y="643.81" width="4.40" height="4.40" fill="#A52240"/>
<path d="M63.34,605.89V622.88M61.04,605.89H65.64M61.04,622.88H65.64" stroke="#34598F" stroke-width="1" fill="none" opacity="0.85"/>
<path d="M63.34,616.69L65.65,612.51L61.03,612.51Z" fill="#34598F"/>
<path d="M70.44,620.05V627.60M68.14,620.05H72.74M68.14,627.60H72.74" stroke="#34598F" stroke-width="1" fill="none" opacity="0.85"/>
<path d="M70.44,626.13L72.75,621.95L68.13,621.95Z" fill="#34598F"/>
<path d="M77.53,623.83V635.16M75.23,623.83H79.83M75.23,635.16H79.83" stroke="#34598F" stroke-width="1" fill="none" opacity="0.85"/>
<path d="M77.53,631.79L79.84,627.61L75.22,627.61Z" fill="#34598F"/>
<path d="M84.63,627.60V640.82M82.33,627.60H86.93M82.33,640.82H86.93" stroke="#34598F" stroke-width="1" fill="none" opacity="0.85"/>
<path d="M84.63,636.51L86.94,632.33L82.32,632.33Z" fill="#34598F"/>
<path d="M91.72,637.04V646.48M89.42,637.04H94.02M89.42,646.48H94.02" stroke="#34598F" stroke-width="1" fill="none" opacity="0.85"/>
<path d="M91.72,644.06L94.03,639.88L89.41,639.88Z" fill="#34598F"/>
<path d="M98.81,641.76V649.32M96.51,641.76H101.11M96.51,649.32H101.11" stroke="#34598F" stroke-width="1" fill="none" opacity="0.85"/>
<path d="M98.81,647.84L101.12,643.66L96.50,643.66Z" fill="#34598F"/>
<path d="M120.10,649.79V655.45M117.80,649.79H122.40M117.80,655.45H122.40" stroke="#34598F" stroke-width="1" fill="none" opacity="0.85"/>
<path d="M120.10,654.92L122.41,650.74L117.79,650.74Z" fill="#34598F"/>
<path d="M141.38,656.87V660.64M139.08,656.87H143.68M139.08,660.64H143.68" stroke="#34598F" stroke-width="1" fill="none" opacity="0.85"/>
<path d="M141.38,661.05L143.69,656.88L139.07,656.88Z" fill="#34598F"/>
<path d="M226.51,668.20V671.97M224.21,668.20H228.81M224.21,671.97H228.81" stroke="#34598F" stroke-width="1" fill="none" opacity="0.85"/>
<path d="M226.51,672.38L228.82,668.20L224.20,668.20Z" fill="#34598F"/>
<path d="M290.40,590.12V706.90H463.96" fill="none" stroke="#1a1a1a" stroke-width="1.3"/>
<path d="M286.90,706.90H290.40M286.90,688.02H290.40M286.90,669.14H290.40M286.90,650.26H290.40M286.90,631.38H290.40M286.90,612.50H290.40M286.90,593.62H290.40M290.40,706.90V710.50M318.76,706.90V710.50M347.12,706.90V710.50M375.48,706.90V710.50M403.84,706.90V710.50M432.20,706.90V710.50M460.56,706.90V710.50" stroke="#1a1a1a" stroke-width="1.1" fill="none"/>
<text x="283.40" y="709.20" font-size="8.6" text-anchor="end" textLength="10.4" lengthAdjust="spacingAndGlyphs" fill="#1a1a1a">0.0</text>
<text x="283.40" y="690.32" font-size="8.6" text-anchor="end" textLength="10.4" lengthAdjust="spacingAndGlyphs" fill="#1a1a1a">0.2</text>
<text x="283.40" y="671.44" font-size="8.6" text-anchor="end" textLength="10.4" lengthAdjust="spacingAndGlyphs" fill="#1a1a1a">0.4</text>
<text x="283.40" y="652.56" font-size="8.6" text-anchor="end" textLength="10.4" lengthAdjust="spacingAndGlyphs" fill="#1a1a1a">0.6</text>
<text x="283.40" y="633.68" font-size="8.6" text-anchor="end" textLength="10.4" lengthAdjust="spacingAndGlyphs" fill="#1a1a1a">0.8</text>
<text x="283.40" y="614.80" font-size="8.6" text-anchor="end" textLength="10.4" lengthAdjust="spacingAndGlyphs" fill="#1a1a1a">1.0</text>
<text x="283.40" y="595.92" font-size="8.6" text-anchor="end" textLength="10.4" lengthAdjust="spacingAndGlyphs" fill="#1a1a1a">1.2</text>
<text x="290.40" y="721.50" font-size="8.6" text-anchor="middle" textLength="5.0" lengthAdjust="spacingAndGlyphs" fill="#1a1a1a">0</text>
<text x="318.76" y="721.50" font-size="8.6" text-anchor="middle" textLength="5.0" lengthAdjust="spacingAndGlyphs" fill="#1a1a1a">4</text>
<text x="347.12" y="721.50" font-size="8.6" text-anchor="middle" textLength="5.0" lengthAdjust="spacingAndGlyphs" fill="#1a1a1a">8</text>
<text x="375.48" y="721.50" font-size="8.6" text-anchor="middle" textLength="8.6" lengthAdjust="spacingAndGlyphs" fill="#1a1a1a">12</text>
<text x="403.84" y="721.50" font-size="8.6" text-anchor="middle" textLength="8.6" lengthAdjust="spacingAndGlyphs" fill="#1a1a1a">16</text>
<text x="432.20" y="721.50" font-size="8.6" text-anchor="middle" textLength="8.6" lengthAdjust="spacingAndGlyphs" fill="#1a1a1a">20</text>
<text x="460.56" y="721.50" font-size="8.6" text-anchor="middle" textLength="8.6" lengthAdjust="spacingAndGlyphs" fill="#1a1a1a">24</text>
<text x="360.90" y="582.10" font-size="10.2" textLength="23.3" lengthAdjust="spacingAndGlyphs" fill="#1a1a1a">IKZF1</text>
<text transform="translate(265.20,649.20) rotate(-90)" font-size="10" text-anchor="middle" textLength="77.2" lengthAdjust="spacingAndGlyphs" fill="#1a1a1a">Relative to time 0</text>
<text x="350.00" y="735.80" font-size="10" textLength="55" lengthAdjust="spacingAndGlyphs" fill="#1a1a1a">Time (hours)</text>
<text x="415.00" y="646.90" font-size="8.2" textLength="9.9" lengthAdjust="spacingAndGlyphs" fill="#1a1a1a">NS</text>
<polyline points="290.4,612.5 292.2,615.8 293.9,618.9 295.7,621.8 297.5,624.6 299.3,627.3 301.0,629.7 302.8,632.1 304.6,634.3 306.4,636.5 308.1,638.5 309.9,640.4 311.7,642.1 313.4,643.8 315.2,645.4 317.0,647.0 318.8,648.4 320.5,649.8 322.3,651.1 324.1,652.3 325.8,653.4 327.6,654.5 329.4,655.6 331.2,656.5 332.9,657.5 334.7,658.3 336.5,659.2 338.3,660.0 340.0,660.7 341.8,661.4 343.6,662.1 345.3,662.7 347.1,663.3 348.9,663.9 350.7,664.4 352.4,664.9 354.2,665.4 356.0,665.8 357.8,666.3 359.5,666.7 361.3,667.1 363.1,667.4 364.8,667.8 366.6,668.1 368.4,668.4 370.2,668.7 371.9,669.0 373.7,669.2 375.5,669.5 377.3,669.7 379.0,669.9 380.8,670.1 382.6,670.3 384.3,670.5 386.1,670.7 387.9,670.9 389.7,671.0 391.4,671.2 393.2,671.3 395.0,671.5 396.8,671.6 398.5,671.7 400.3,671.8 402.1,671.9 403.8,672.0 405.6,672.1 407.4,672.2 409.2,672.3 410.9,672.4 412.7,672.5 414.5,672.6 416.2,672.6 418.0,672.7 419.8,672.8 421.6,672.8 423.3,672.9 425.1,672.9 426.9,673.0 428.7,673.0 430.4,673.1 432.2,673.1 434.0,673.1 435.7,673.2 437.5,673.2 439.3,673.3 441.1,673.3 442.8,673.3 444.6,673.3 446.4,673.4 448.2,673.4 449.9,673.4 451.7,673.4 453.5,673.5 455.2,673.5 457.0,673.5 458.8,673.5 460.6,673.5" fill="none" stroke="#A52240" stroke-width="1.5"/>
<polyline points="290.4,612.5 292.2,615.1 293.9,617.6 295.7,620.0 297.5,622.2 299.3,624.4 301.0,626.5 302.8,628.5 304.6,630.4 306.4,632.2 308.1,633.9 309.9,635.5 311.7,637.1 313.4,638.6 315.2,640.1 317.0,641.5 318.8,642.8 320.5,644.0 322.3,645.2 324.1,646.4 325.8,647.5 327.6,648.5 329.4,649.5 331.2,650.5 332.9,651.4 334.7,652.3 336.5,653.1 338.3,653.9 340.0,654.7 341.8,655.4 343.6,656.1 345.3,656.7 347.1,657.4 348.9,658.0 350.7,658.6 352.4,659.1 354.2,659.7 356.0,660.2 357.8,660.6 359.5,661.1 361.3,661.5 363.1,662.0 364.8,662.4 366.6,662.8 368.4,663.1 370.2,663.5 371.9,663.8 373.7,664.1 375.5,664.4 377.3,664.7 379.0,665.0 380.8,665.3 382.6,665.5 384.3,665.8 386.1,666.0 387.9,666.2 389.7,666.4 391.4,666.7 393.2,666.8 395.0,667.0 396.8,667.2 398.5,667.4 400.3,667.5 402.1,667.7 403.8,667.8 405.6,668.0 407.4,668.1 409.2,668.3 410.9,668.4 412.7,668.5 414.5,668.6 416.2,668.7 418.0,668.8 419.8,668.9 421.6,669.0 423.3,669.1 425.1,669.2 426.9,669.3 428.7,669.3 430.4,669.4 432.2,669.5 434.0,669.6 435.7,669.6 437.5,669.7 439.3,669.7 441.1,669.8 442.8,669.9 444.6,669.9 446.4,670.0 448.2,670.0 449.9,670.1 451.7,670.1 453.5,670.1 455.2,670.2 457.0,670.2 458.8,670.3 460.6,670.3" fill="none" stroke="#34598F" stroke-width="1.5"/>
<path d="M297.49,604.66V623.54M295.19,604.66H299.79M295.19,623.54H299.79" stroke="#A52240" stroke-width="1" fill="none" opacity="0.85"/>
<rect x="295.29" y="611.90" width="4.40" height="4.40" fill="#A52240"/>
<path d="M304.58,624.30V639.40M302.28,624.30H306.88M302.28,639.40H306.88" stroke="#A52240" stroke-width="1" fill="none" opacity="0.85"/>
<rect x="302.38" y="629.65" width="4.40" height="4.40" fill="#A52240"/>
<path d="M311.67,641.58V649.13M309.37,641.58H313.97M309.37,649.13H313.97" stroke="#A52240" stroke-width="1" fill="none" opacity="0.85"/>
<rect x="309.47" y="643.15" width="4.40" height="4.40" fill="#A52240"/>
<rect x="316.56" y="652.31" width="4.40" height="4.40" fill="#A52240"/>
<path d="M325.85,648.37V655.92M323.55,648.37H328.15M323.55,655.92H328.15" stroke="#A52240" stroke-width="1" fill="none" opacity="0.85"/>
<rect x="323.65" y="649.95" width="4.40" height="4.40" fill="#A52240"/>
<path d="M332.94,657.53V666.97M330.64,657.53H335.24M330.64,666.97H335.24" stroke="#A52240" stroke-width="1" fill="none" opacity="0.85"/>
<rect x="330.74" y="660.05" width="4.40" height="4.40" fill="#A52240"/>
<path d="M354.21,665.36V667.25M351.91,665.36H356.51M351.91,667.25H356.51" stroke="#A52240" stroke-width="1" fill="none" opacity="0.85"/>
<rect x="352.01" y="664.11" width="4.40" height="4.40" fill="#A52240"/>
<path d="M375.48,669.14V672.92M373.18,669.14H377.78M373.18,672.92H377.78" stroke="#A52240" stroke-width="1" fill="none" opacity="0.85"/>
<rect x="373.28" y="668.83" width="4.40" height="4.40" fill="#A52240"/>
<path d="M460.56,666.31V675.75M458.26,666.31H462.86M458.26,675.75H462.86" stroke="#A52240" stroke-width="1" fill="none" opacity="0.85"/>
<rect x="458.36" y="668.83" width="4.40" height="4.40" fill="#A52240"/>
<path d="M297.49,607.78V617.22M295.19,607.78H299.79M295.19,617.22H299.79" stroke="#34598F" stroke-width="1" fill="none" opacity="0.85"/>
<path d="M297.49,614.80L299.80,610.62L295.18,610.62Z" fill="#34598F"/>
<path d="M304.58,623.83V631.38M302.28,623.83H306.88M302.28,631.38H306.88" stroke="#34598F" stroke-width="1" fill="none" opacity="0.85"/>
<path d="M304.58,629.90L306.89,625.72L302.27,625.72Z" fill="#34598F"/>
<path d="M311.67,633.74V639.40M309.37,633.74H313.97M309.37,639.40H313.97" stroke="#34598F" stroke-width="1" fill="none" opacity="0.85"/>
<path d="M311.67,638.87L313.98,634.69L309.36,634.69Z" fill="#34598F"/>
<path d="M318.76,638.74V648.18M316.46,638.74H321.06M316.46,648.18H321.06" stroke="#34598F" stroke-width="1" fill="none" opacity="0.85"/>
<path d="M318.76,645.76L321.07,641.58L316.45,641.58Z" fill="#34598F"/>
<path d="M325.85,644.31V648.09M323.55,644.31H328.15M323.55,648.09H328.15" stroke="#34598F" stroke-width="1" fill="none" opacity="0.85"/>
<path d="M325.85,648.50L328.16,644.32L323.54,644.32Z" fill="#34598F"/>
<path d="M332.94,649.79V655.45M330.64,649.79H335.24M330.64,655.45H335.24" stroke="#34598F" stroke-width="1" fill="none" opacity="0.85"/>
<path d="M332.94,654.92L335.25,650.74L330.63,650.74Z" fill="#34598F"/>
<path d="M354.21,655.92V659.70M351.91,655.92H356.51M351.91,659.70H356.51" stroke="#34598F" stroke-width="1" fill="none" opacity="0.85"/>
<path d="M354.21,660.11L356.52,655.93L351.90,655.93Z" fill="#34598F"/>
<path d="M375.48,662.53V666.31M373.18,662.53H377.78M373.18,666.31H377.78" stroke="#34598F" stroke-width="1" fill="none" opacity="0.85"/>
<path d="M375.48,666.72L377.79,662.54L373.17,662.54Z" fill="#34598F"/>
<path d="M460.56,663.48V672.92M458.26,663.48H462.86M458.26,672.92H462.86" stroke="#34598F" stroke-width="1" fill="none" opacity="0.85"/>
<path d="M460.56,670.50L462.87,666.32L458.25,666.32Z" fill="#34598F"/>
<path d="M468.8,641.2H481.2" stroke="#A52240" stroke-width="1.3"/>
<rect x="472.50" y="638.70" width="5.00" height="5.00" fill="#A52240"/>
<text x="484.60" y="644.00" font-size="8.5" textLength="22.6" lengthAdjust="spacingAndGlyphs" fill="#1a1a1a">MM1S</text>
<path d="M468.8,653.2H481.2" stroke="#34598F" stroke-width="1.3"/>
<path d="M475.00,655.71L477.52,651.15L472.48,651.15Z" fill="#34598F"/>
<text x="484.60" y="655.80" font-size="8.5" textLength="16.8" lengthAdjust="spacingAndGlyphs" fill="#1a1a1a">KG-1</text>
<text x="8.80" y="17.30" font-size="12.3" textLength="8.0" lengthAdjust="spacingAndGlyphs" fill="#1a1a1a">A</text>
<text x="10.30" y="567.00" font-size="12.3" textLength="7.2" lengthAdjust="spacingAndGlyphs" fill="#1a1a1a">B</text>
<rect x="0" y="1" width="520" height="1" fill="#e2e2e2"/>
<rect x="0" y="745" width="520" height="1" fill="#dcdcdc"/>
<rect x="2" y="0" width="1" height="747" fill="#f0f0f0"/>
<rect x="517" y="0" width="1" height="747" fill="#f0f0f0"/>
<rect x="0" y="0" width="520" height="1" fill="#000"/>
<rect x="0" y="746" width="520" height="1" fill="#000"/>
<rect x="0" y="0" width="1" height="747" fill="#505050"/>
<rect x="1" y="0" width="1" height="747" fill="#878787"/>
<rect x="518" y="0" width="1" height="747" fill="#878787"/>
<rect x="519" y="0" width="1" height="747" fill="#505050"/>
</svg>
</body></html>
